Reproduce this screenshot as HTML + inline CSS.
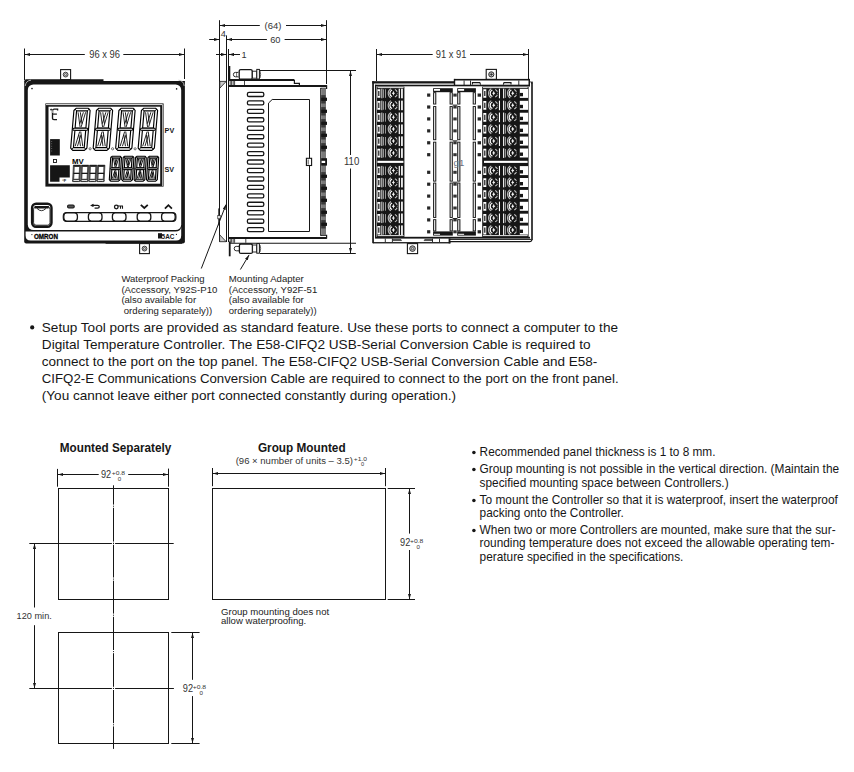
<!DOCTYPE html>
<html><head><meta charset="utf-8">
<style>
html,body{margin:0;padding:0;background:#fff;}
body{width:854px;height:772px;overflow:hidden;position:relative;}
svg{position:absolute;left:0;top:0;}
text{font-family:"Liberation Sans",sans-serif;fill:#161616;}
.t13{font-size:13px;}
.t12{font-size:11.85px;}
.t10{font-size:10px;}
.t9{font-size:9.6px;}
.b{font-weight:bold;}
</style></head><body>
<svg width="854" height="772" viewBox="0 0 854 772">
<defs>
  <marker id="ah" viewBox="0 0 10 6" refX="10" refY="3" markerWidth="5.3" markerHeight="3.3" orient="auto-start-reverse" markerUnits="userSpaceOnUse">
    <path d="M0,0 L10,3 L0,6 z" fill="#161616"/>
  </marker>
</defs>

<g id="front" stroke="#161616" fill="none" stroke-width="1">
<line x1="24.5" y1="48.5" x2="24.5" y2="80"/>
<line x1="184.5" y1="48.5" x2="184.5" y2="81"/>
<line x1="84.8" y1="54.5" x2="25" y2="54.5" marker-end="url(#ah)"/>
<line x1="123.3" y1="54.5" x2="184" y2="54.5" marker-end="url(#ah)"/>
<rect x="60.6" y="69.6" width="10" height="10" fill="#fff" stroke-width="1.1"/>
<circle cx="65.6" cy="74.6" r="2.4" stroke-width="0.8" fill="#ddd"/>
<circle cx="65.6" cy="74.6" r="1.1" stroke-width="0.6"/>
<rect x="24.2" y="79.2" width="160.7" height="164.2" rx="2" fill="#161616" stroke="none"/>
<rect x="103.5" y="79.0" width="82" height="2" fill="#fff" stroke="none"/>
<rect x="27.8" y="84.4" width="153.4" height="145.6" rx="5.5" fill="#fff" stroke="none"/>
<path d="M25.6,231.5 L175.5,231.5 Q180.4,231.5 181.2,227.2 L181.2,235.4 Q181.2,240.5 176.2,240.5 L30.6,240.5 Q25.6,240.5 25.6,235.5 Z" fill="#fff" stroke="none"/>
<path d="M25.2,86 Q26,80.5 31,80.2" stroke="#bbb" stroke-width="0.9"/>
<path d="M178.5,80.2 Q183.6,80.5 184.2,86" stroke="#bbb" stroke-width="0.9"/>
<circle cx="32" cy="88.6" r="0.8" fill="#161616" stroke="none"/>
<circle cx="176.6" cy="88.9" r="0.8" fill="#161616" stroke="none"/>
<rect x="45.4" y="103.4" width="118.2" height="83.2" fill="#161616" stroke="none"/>
<line x1="46" y1="104.6" x2="162.6" y2="104.6" stroke="#fff" stroke-width="0.9"/>
<line x1="162.6" y1="104.8" x2="162.6" y2="186" stroke="#fff" stroke-width="0.7"/>
<rect x="48.5" y="106.7" width="111.7" height="77" fill="#fff" stroke="none"/>
</g>
<path d="M76.37,108.20 L88.03,108.20 L90.11,110.47 L86.89,148.03 L84.43,150.30 L72.77,150.30 L70.69,148.03 L73.91,110.47 Z" fill="none" stroke="#000" stroke-width="1.15" stroke-linejoin="round"/>
<path d="M76.57,110.90 L87.37,110.90 L85.91,127.99 L75.11,127.99 Z" fill="#fff" stroke="#000" stroke-width="1.15"/>
<path d="M74.89,130.51 L85.69,130.51 L84.23,147.60 L73.43,147.60 Z" fill="#fff" stroke="#000" stroke-width="1.15"/>
<path d="M73.60,128.24 L87.37,128.24 L87.96,129.25 L87.20,130.26 L73.43,130.26 L72.84,129.25 Z" fill="#fff" stroke="#000" stroke-width="1.035"/>
<path d="M74.83,108.99 L76.57,110.90 M89.44,108.99 L87.37,110.90 M71.36,149.51 L73.43,147.60 M85.97,149.51 L84.23,147.60" stroke="#000" stroke-width="0.85" fill="none"/>
<path d="M78.07,112.27 L80.06,126.96 M80.34,112.27 L81.95,123.72 M85.63,112.27 L81.14,126.96 M83.36,112.27 L79.79,123.72 M75.17,146.23 L79.66,131.54 M77.44,146.23 L81.01,134.78 M82.73,146.23 L80.74,131.54 M80.46,146.23 L78.85,134.78" stroke="#000" stroke-width="0.85" fill="none"/>
<circle cx="90.1" cy="148.8" r="1.1" fill="none" stroke="#161616" stroke-width="0.6"/>
<path d="M98.87,108.20 L110.53,108.20 L112.61,110.47 L109.39,148.03 L106.93,150.30 L95.27,150.30 L93.19,148.03 L96.41,110.47 Z" fill="none" stroke="#000" stroke-width="1.15" stroke-linejoin="round"/>
<path d="M99.07,110.90 L109.87,110.90 L108.41,127.99 L97.61,127.99 Z" fill="#fff" stroke="#000" stroke-width="1.15"/>
<path d="M97.39,130.51 L108.19,130.51 L106.73,147.60 L95.93,147.60 Z" fill="#fff" stroke="#000" stroke-width="1.15"/>
<path d="M96.10,128.24 L109.87,128.24 L110.46,129.25 L109.70,130.26 L95.93,130.26 L95.34,129.25 Z" fill="#fff" stroke="#000" stroke-width="1.035"/>
<path d="M97.33,108.99 L99.07,110.90 M111.94,108.99 L109.87,110.90 M93.86,149.51 L95.93,147.60 M108.47,149.51 L106.73,147.60" stroke="#000" stroke-width="0.85" fill="none"/>
<path d="M100.57,112.27 L102.56,126.96 M102.84,112.27 L104.45,123.72 M108.13,112.27 L103.64,126.96 M105.86,112.27 L102.29,123.72 M97.67,146.23 L102.16,131.54 M99.94,146.23 L103.51,134.78 M105.23,146.23 L103.24,131.54 M102.96,146.23 L101.35,134.78" stroke="#000" stroke-width="0.85" fill="none"/>
<circle cx="112.6" cy="148.8" r="1.1" fill="none" stroke="#161616" stroke-width="0.6"/>
<path d="M121.37,108.20 L133.03,108.20 L135.11,110.47 L131.89,148.03 L129.43,150.30 L117.77,150.30 L115.69,148.03 L118.91,110.47 Z" fill="none" stroke="#000" stroke-width="1.15" stroke-linejoin="round"/>
<path d="M121.57,110.90 L132.37,110.90 L130.91,127.99 L120.11,127.99 Z" fill="#fff" stroke="#000" stroke-width="1.15"/>
<path d="M119.89,130.51 L130.69,130.51 L129.23,147.60 L118.43,147.60 Z" fill="#fff" stroke="#000" stroke-width="1.15"/>
<path d="M118.60,128.24 L132.37,128.24 L132.96,129.25 L132.20,130.26 L118.43,130.26 L117.84,129.25 Z" fill="#fff" stroke="#000" stroke-width="1.035"/>
<path d="M119.83,108.99 L121.57,110.90 M134.44,108.99 L132.37,110.90 M116.36,149.51 L118.43,147.60 M130.97,149.51 L129.23,147.60" stroke="#000" stroke-width="0.85" fill="none"/>
<path d="M123.07,112.27 L125.06,126.96 M125.34,112.27 L126.95,123.72 M130.63,112.27 L126.14,126.96 M128.36,112.27 L124.79,123.72 M120.17,146.23 L124.66,131.54 M122.44,146.23 L126.01,134.78 M127.73,146.23 L125.74,131.54 M125.46,146.23 L123.85,134.78" stroke="#000" stroke-width="0.85" fill="none"/>
<circle cx="135.1" cy="148.8" r="1.1" fill="none" stroke="#161616" stroke-width="0.6"/>
<path d="M143.87,108.20 L155.53,108.20 L157.61,110.47 L154.39,148.03 L151.93,150.30 L140.27,150.30 L138.19,148.03 L141.41,110.47 Z" fill="none" stroke="#000" stroke-width="1.15" stroke-linejoin="round"/>
<path d="M144.07,110.90 L154.87,110.90 L153.41,127.99 L142.61,127.99 Z" fill="#fff" stroke="#000" stroke-width="1.15"/>
<path d="M142.39,130.51 L153.19,130.51 L151.73,147.60 L140.93,147.60 Z" fill="#fff" stroke="#000" stroke-width="1.15"/>
<path d="M141.10,128.24 L154.87,128.24 L155.46,129.25 L154.70,130.26 L140.93,130.26 L140.34,129.25 Z" fill="#fff" stroke="#000" stroke-width="1.035"/>
<path d="M142.33,108.99 L144.07,110.90 M156.94,108.99 L154.87,110.90 M138.86,149.51 L140.93,147.60 M153.47,149.51 L151.73,147.60" stroke="#000" stroke-width="0.85" fill="none"/>
<path d="M145.57,112.27 L147.56,126.96 M147.84,112.27 L149.45,123.72 M153.13,112.27 L148.64,126.96 M150.86,112.27 L147.29,123.72 M142.67,146.23 L147.16,131.54 M144.94,146.23 L148.51,134.78 M150.23,146.23 L148.24,131.54 M147.96,146.23 L146.35,134.78" stroke="#000" stroke-width="0.85" fill="none"/>
<path d="M112.31,156.20 L120.09,156.20 L121.50,157.71 L120.10,179.69 L118.49,181.20 L110.71,181.20 L109.30,179.69 L110.70,157.71 Z" fill="#cfcfcf" stroke="#000" stroke-width="1.1" stroke-linejoin="round"/>
<path d="M112.58,158.10 L119.58,158.10 L118.96,167.74 L111.96,167.74 Z" fill="#fff" stroke="#000" stroke-width="1.1"/>
<path d="M111.84,169.66 L118.84,169.66 L118.22,179.30 L111.22,179.30 Z" fill="#fff" stroke="#000" stroke-width="1.1"/>
<path d="M110.90,167.99 L119.99,167.99 L120.42,168.70 L119.90,169.41 L110.81,169.41 L110.38,168.70 Z" fill="#fff" stroke="#000" stroke-width="0.9900000000000001"/>
<path d="M111.30,156.73 L112.58,158.10 M121.04,156.73 L119.58,158.10 M109.76,180.67 L111.22,179.30 M119.50,180.67 L118.22,179.30" stroke="#000" stroke-width="0.9" fill="none"/>
<path d="M113.58,158.87 L115.15,167.16 M115.05,158.87 L116.32,165.33 M118.48,158.87 L115.85,167.16 M117.01,158.87 L114.92,165.33 M112.32,178.53 L114.95,170.24 M113.79,178.53 L115.88,172.07 M117.22,178.53 L115.65,170.24 M115.75,178.53 L114.48,172.07" stroke="#000" stroke-width="0.9" fill="none"/>
<path d="M124.71,156.20 L132.49,156.20 L133.90,157.71 L132.50,179.69 L130.89,181.20 L123.11,181.20 L121.70,179.69 L123.10,157.71 Z" fill="#cfcfcf" stroke="#000" stroke-width="1.1" stroke-linejoin="round"/>
<path d="M124.98,158.10 L131.98,158.10 L131.36,167.74 L124.36,167.74 Z" fill="#fff" stroke="#000" stroke-width="1.1"/>
<path d="M124.24,169.66 L131.24,169.66 L130.62,179.30 L123.62,179.30 Z" fill="#fff" stroke="#000" stroke-width="1.1"/>
<path d="M123.30,167.99 L132.39,167.99 L132.82,168.70 L132.30,169.41 L123.21,169.41 L122.78,168.70 Z" fill="#fff" stroke="#000" stroke-width="0.9900000000000001"/>
<path d="M123.70,156.73 L124.98,158.10 M133.44,156.73 L131.98,158.10 M122.16,180.67 L123.62,179.30 M131.90,180.67 L130.62,179.30" stroke="#000" stroke-width="0.9" fill="none"/>
<path d="M125.98,158.87 L127.55,167.16 M127.45,158.87 L128.72,165.33 M130.88,158.87 L128.25,167.16 M129.41,158.87 L127.32,165.33 M124.72,178.53 L127.35,170.24 M126.19,178.53 L128.28,172.07 M129.62,178.53 L128.05,170.24 M128.15,178.53 L126.88,172.07" stroke="#000" stroke-width="0.9" fill="none"/>
<path d="M137.11,156.20 L144.89,156.20 L146.30,157.71 L144.90,179.69 L143.29,181.20 L135.51,181.20 L134.10,179.69 L135.50,157.71 Z" fill="#cfcfcf" stroke="#000" stroke-width="1.1" stroke-linejoin="round"/>
<path d="M137.38,158.10 L144.38,158.10 L143.76,167.74 L136.76,167.74 Z" fill="#fff" stroke="#000" stroke-width="1.1"/>
<path d="M136.64,169.66 L143.64,169.66 L143.02,179.30 L136.02,179.30 Z" fill="#fff" stroke="#000" stroke-width="1.1"/>
<path d="M135.70,167.99 L144.79,167.99 L145.22,168.70 L144.70,169.41 L135.61,169.41 L135.18,168.70 Z" fill="#fff" stroke="#000" stroke-width="0.9900000000000001"/>
<path d="M136.10,156.73 L137.38,158.10 M145.84,156.73 L144.38,158.10 M134.56,180.67 L136.02,179.30 M144.30,180.67 L143.02,179.30" stroke="#000" stroke-width="0.9" fill="none"/>
<path d="M138.38,158.87 L139.95,167.16 M139.85,158.87 L141.12,165.33 M143.28,158.87 L140.65,167.16 M141.81,158.87 L139.72,165.33 M137.12,178.53 L139.75,170.24 M138.59,178.53 L140.68,172.07 M142.02,178.53 L140.45,170.24 M140.55,178.53 L139.28,172.07" stroke="#000" stroke-width="0.9" fill="none"/>
<path d="M149.51,156.20 L157.29,156.20 L158.70,157.71 L157.30,179.69 L155.69,181.20 L147.91,181.20 L146.50,179.69 L147.90,157.71 Z" fill="#cfcfcf" stroke="#000" stroke-width="1.1" stroke-linejoin="round"/>
<path d="M149.78,158.10 L156.78,158.10 L156.16,167.74 L149.16,167.74 Z" fill="#fff" stroke="#000" stroke-width="1.1"/>
<path d="M149.04,169.66 L156.04,169.66 L155.42,179.30 L148.42,179.30 Z" fill="#fff" stroke="#000" stroke-width="1.1"/>
<path d="M148.10,167.99 L157.19,167.99 L157.62,168.70 L157.10,169.41 L148.01,169.41 L147.58,168.70 Z" fill="#fff" stroke="#000" stroke-width="0.9900000000000001"/>
<path d="M148.50,156.73 L149.78,158.10 M158.24,156.73 L156.78,158.10 M146.96,180.67 L148.42,179.30 M156.70,180.67 L155.42,179.30" stroke="#000" stroke-width="0.9" fill="none"/>
<path d="M150.78,158.87 L152.35,167.16 M152.25,158.87 L153.52,165.33 M155.68,158.87 L153.05,167.16 M154.21,158.87 L152.12,165.33 M149.52,178.53 L152.15,170.24 M150.99,178.53 L153.08,172.07 M154.42,178.53 L152.85,170.24 M152.95,178.53 L151.68,172.07" stroke="#000" stroke-width="0.9" fill="none"/>
<path d="M73.40,165.20 L80.60,165.20 L79.80,181.60 L72.60,181.60 Z" fill="#555" stroke="#222" stroke-width="0.7"/>
<path d="M74.75,167.07 L79.07,167.07 L78.79,172.70 L74.47,172.70 Z" fill="#fff" stroke="none"/>
<path d="M74.41,174.10 L78.73,174.10 L78.49,178.86 L74.17,178.86 Z" fill="#fff" stroke="none"/>
<path d="M73.57,165.80 L80.37,165.80" stroke="#161616" stroke-width="1.3"/>
<path d="M73.40,173.40 L79.80,173.40" stroke="#161616" stroke-width="1.1"/>
<path d="M74.09,179.70 L78.49,179.70 Q79.69,179.70 79.65,180.60 Q79.60,181.50 78.40,181.50 L74.00,181.50 Q72.80,181.50 72.85,180.60 Q72.89,179.70 74.09,179.70 Z" fill="#fff" stroke="#161616" stroke-width="0.8"/>
<path d="M81.50,165.20 L88.70,165.20 L87.90,181.60 L80.70,181.60 Z" fill="#555" stroke="#222" stroke-width="0.7"/>
<path d="M82.85,167.07 L87.17,167.07 L86.89,172.70 L82.57,172.70 Z" fill="#fff" stroke="none"/>
<path d="M82.51,174.10 L86.83,174.10 L86.59,178.86 L82.27,178.86 Z" fill="#fff" stroke="none"/>
<path d="M81.67,165.80 L88.47,165.80" stroke="#161616" stroke-width="1.3"/>
<path d="M81.50,173.40 L87.90,173.40" stroke="#161616" stroke-width="1.1"/>
<path d="M82.19,179.70 L86.59,179.70 Q87.79,179.70 87.75,180.60 Q87.70,181.50 86.50,181.50 L82.10,181.50 Q80.90,181.50 80.95,180.60 Q80.99,179.70 82.19,179.70 Z" fill="#fff" stroke="#161616" stroke-width="0.8"/>
<path d="M89.60,165.20 L96.80,165.20 L96.00,181.60 L88.80,181.60 Z" fill="#555" stroke="#222" stroke-width="0.7"/>
<path d="M90.95,167.07 L95.27,167.07 L94.99,172.70 L90.67,172.70 Z" fill="#fff" stroke="none"/>
<path d="M90.61,174.10 L94.93,174.10 L94.69,178.86 L90.37,178.86 Z" fill="#fff" stroke="none"/>
<path d="M89.77,165.80 L96.57,165.80" stroke="#161616" stroke-width="1.3"/>
<path d="M89.60,173.40 L96.00,173.40" stroke="#161616" stroke-width="1.1"/>
<path d="M90.29,179.70 L94.69,179.70 Q95.89,179.70 95.85,180.60 Q95.80,181.50 94.60,181.50 L90.20,181.50 Q89.00,181.50 89.05,180.60 Q89.09,179.70 90.29,179.70 Z" fill="#fff" stroke="#161616" stroke-width="0.8"/>
<path d="M97.70,165.20 L104.90,165.20 L104.10,181.60 L96.90,181.60 Z" fill="#555" stroke="#222" stroke-width="0.7"/>
<path d="M99.05,167.07 L103.37,167.07 L103.09,172.70 L98.77,172.70 Z" fill="#fff" stroke="none"/>
<path d="M98.71,174.10 L103.03,174.10 L102.79,178.86 L98.47,178.86 Z" fill="#fff" stroke="none"/>
<path d="M97.87,165.80 L104.67,165.80" stroke="#161616" stroke-width="1.3"/>
<path d="M97.70,173.40 L104.10,173.40" stroke="#161616" stroke-width="1.1"/>
<path d="M98.39,179.70 L102.79,179.70 Q103.99,179.70 103.95,180.60 Q103.90,181.50 102.70,181.50 L98.30,181.50 Q97.10,181.50 97.15,180.60 Q97.19,179.70 98.39,179.70 Z" fill="#fff" stroke="#161616" stroke-width="0.8"/>
<rect x="50.1" y="139.1" width="9.7" height="16.4" fill="#161616"/>
<rect x="53.5" y="159.5" width="3" height="3" fill="none" stroke="#161616" stroke-width="0.9"/>
<path d="M50.1,165.3 L69.8,165.3 L69.8,177.6 L59.5,177.6 L59.5,181.7 L50.1,181.7 Z" fill="#161616"/>
<rect x="51.3" y="141" width="0.8" height="0.8" fill="#888"/>
<rect x="51.3" y="143.4" width="0.8" height="0.8" fill="#888"/>
<rect x="51.3" y="145.8" width="0.8" height="0.8" fill="#888"/>
<rect x="51.3" y="148.2" width="0.8" height="0.8" fill="#888"/>
<rect x="51.3" y="150.6" width="0.8" height="0.8" fill="#888"/>
<text x="62.2" y="182.2" style="font-size:4px;font-weight:bold">°F</text>
<path d="M57.6,110.6 L57.6,109.1 L54.0,109.1 Q52.6,109.2 52.5,111 L52.5,118.6 Q52.5,119.6 54.0,119.6 L57.0,119.6" fill="none" stroke="#161616" stroke-width="1.35"/>
<path d="M52.5,110.2 L52.5,113" stroke="#999" stroke-width="1.4"/>
<path d="M52.6,114.1 L56.9,114.1" fill="none" stroke="#161616" stroke-width="1.2"/>
<path d="M50.0,109.6 L52.4,109.6 M51.2,108.6 L51.2,110.6" fill="none" stroke="#161616" stroke-width="0.8"/>
<text x="72.1" y="163.6" style="font-size:7.6px;font-weight:bold;fill:#000" textLength="11.7" lengthAdjust="spacingAndGlyphs">MV</text>
<text x="164.6" y="132.6" style="font-size:7.4px;font-weight:bold" textLength="9.6" lengthAdjust="spacingAndGlyphs">PV</text>
<text x="164.4" y="171.6" style="font-size:7.4px;font-weight:bold" textLength="9.6" lengthAdjust="spacingAndGlyphs">SV</text>
<rect x="32.1" y="203.8" width="19.4" height="22.9" rx="4" fill="none" stroke="#161616" stroke-width="2.4"/>
<path d="M34.5,206 L49,206 L48.5,208.4 L35,208.4 Z" fill="#161616"/>
<path d="M37,208.4 Q41.4,213 46,208.4" fill="none" stroke="#161616" stroke-width="0.9"/>
<rect x="33.6" y="206.8" width="16.4" height="18.4" rx="2.5" fill="none" stroke="#161616" stroke-width="0.9"/>
<rect x="63.3" y="212.6" width="112.6" height="8.8" rx="3.5" fill="none" stroke="#161616" stroke-width="1.2"/>
<rect x="63.8" y="212.9" width="13.6" height="8.2" rx="3" fill="#fff" stroke="#161616" stroke-width="1.3"/>
<rect x="88.4" y="212.9" width="13.6" height="8.2" rx="3" fill="#fff" stroke="#161616" stroke-width="1.3"/>
<rect x="112.4" y="212.9" width="13.6" height="8.2" rx="3" fill="#fff" stroke="#161616" stroke-width="1.3"/>
<rect x="137.2" y="212.9" width="13.6" height="8.2" rx="3" fill="#fff" stroke="#161616" stroke-width="1.3"/>
<rect x="161.6" y="212.9" width="13.6" height="8.2" rx="3" fill="#fff" stroke="#161616" stroke-width="1.3"/>
<rect x="67.6" y="205.0" width="6.6" height="3.0" rx="1.2" fill="#555" stroke="#161616" stroke-width="1.1"/>
<path d="M91.4,205.4 L97.5,205.4 Q99.3,205.4 99.3,206.8 Q99.3,208.2 97.5,208.2 L94.6,208.2 M93.5,206.5 L91.4,205.4 L93.5,204.3" fill="none" stroke="#161616" stroke-width="1.2"/>
<circle cx="116.3" cy="207" r="1.8" fill="none" stroke="#161616" stroke-width="1.3"/><path d="M118,206 L123,206 M120.5,206 L120.5,208.8 M122.5,206 L122.5,208.8" stroke="#161616" stroke-width="1.1"/>
<path d="M140.8,204.8 L144.3,208 L147.8,204.8" fill="none" stroke="#161616" stroke-width="1.8"/>
<path d="M164.9,208.6 L168.4,205.2 L171.9,208.6" fill="none" stroke="#161616" stroke-width="1.8"/>
<circle cx="31.9" cy="234.6" r="0.6" fill="#161616"/>
<text x="34" y="238.7" style="font-size:7.2px;font-weight:bold;fill:#000;stroke:#000;stroke-width:0.3" textLength="24" lengthAdjust="spacingAndGlyphs">OMRON</text>
<rect x="158" y="233.2" width="4" height="5.3" fill="#161616"/>
<text x="161.6" y="238.6" style="font-size:7px;font-weight:bold" textLength="12.8" lengthAdjust="spacingAndGlyphs">5AC</text>
<circle cx="176.4" cy="234.4" r="0.6" fill="#161616"/>
<line x1="105.6" y1="243.1" x2="182" y2="243.1" stroke="#161616" stroke-width="1.2"/>
<rect x="139.6" y="243.6" width="9.8" height="10" fill="#fff" stroke="#161616" stroke-width="1.1"/>
<circle cx="144.5" cy="248.6" r="2.4" fill="#ddd" stroke="#161616" stroke-width="0.8"/>
<circle cx="144.5" cy="248.6" r="1.1" fill="none" stroke="#161616" stroke-width="0.6"/>
<text x="89.3" y="57.7" textLength="30.7" lengthAdjust="spacingAndGlyphs" style="font-size:10px;fill:#333">96 x 96</text>
<g id="side" stroke="#161616" fill="none" stroke-width="1">
<line x1="219.5" y1="20.2" x2="219.5" y2="241.8"/>
<line x1="326.5" y1="20.2" x2="326.5" y2="84"/>
<line x1="259.8" y1="25.5" x2="220" y2="25.5" marker-end="url(#ah)"/>
<line x1="286" y1="25.5" x2="326" y2="25.5" marker-end="url(#ah)"/>
<line x1="209.2" y1="39.5" x2="219.4" y2="39.5" marker-end="url(#ah)"/>
<line x1="266.9" y1="39.5" x2="226.8" y2="39.5" marker-end="url(#ah)"/>
<line x1="284.6" y1="39.5" x2="326.2" y2="39.5" marker-end="url(#ah)"/>
<line x1="216" y1="54.5" x2="226.3" y2="54.5" marker-end="url(#ah)"/>
<line x1="240" y1="54.5" x2="228.7" y2="54.5" marker-end="url(#ah)"/>
<line x1="226.5" y1="35.4" x2="226.5" y2="242"/>
<line x1="228.5" y1="49" x2="228.5" y2="242"/>
<line x1="260" y1="70.5" x2="356" y2="70.5"/>
<line x1="260" y1="253.5" x2="355.8" y2="253.5"/>
<line x1="350.5" y1="155" x2="350.5" y2="71" marker-end="url(#ah)"/>
<line x1="350.5" y1="168.5" x2="350.5" y2="253" marker-end="url(#ah)"/>
<rect x="228.7" y="66" width="1.6" height="13" fill="#161616" stroke="none"/>
<rect x="239.2" y="69.6" width="13" height="9.6" rx="1.5" fill="#fff" stroke-width="1.3"/>
<path d="M238.4,72.4 L235.4,72.4 Q233.4,72.4 233.4,74.5 Q233.4,76.8 235.4,76.8 L238.4,76.8" stroke-width="0.9"/>
<line x1="236.6" y1="72.4" x2="236.6" y2="76.8" stroke-width="0.6"/>
<rect x="252.4" y="71.2" width="4.4" height="7" fill="#fff" stroke-width="0.9"/>
<rect x="256.8" y="69.4" width="2.6" height="9.6" fill="#fff" stroke-width="1"/>
<path d="M260,71 Q261.3,74.3 260,78" stroke-width="0.7"/>
<line x1="229" y1="80" x2="294.4" y2="80" stroke-width="1.8"/>
<path d="M294.4,80 L294.4,83.4 L299.4,83.4 L299.4,86" stroke-width="1.2"/>
<line x1="228.4" y1="86" x2="326.8" y2="86" stroke-width="1.9"/>
<path d="M326.6,85.2 L326.6,88.3 L320.4,88.3" stroke-width="1.2"/>
<line x1="230.2" y1="80.5" x2="230.2" y2="85.4" stroke-width="0.8"/>
<line x1="231.6" y1="80.5" x2="231.6" y2="85.4" stroke-width="0.8"/>
<line x1="233.2" y1="80.5" x2="233.2" y2="85.4" stroke-width="0.8"/>
<line x1="234.6" y1="80.5" x2="234.6" y2="85.4" stroke-width="0.8"/>
<line x1="244.5" y1="80.5" x2="244.5" y2="85.4" stroke-width="0.8"/>
<path d="M219.8,81.4 L226.2,81.4 L219.8,88.2 Z" fill="#c8c8c8" stroke-width="0.8"/>
<line x1="228.4" y1="238" x2="326.8" y2="238" stroke-width="1.9"/>
<path d="M326.6,238.5 L326.6,235.3 L320.4,235.3" stroke-width="1.2"/>
<line x1="229" y1="243.3" x2="356" y2="243.3" stroke-width="1.1"/>
<line x1="230.2" y1="238.2" x2="230.2" y2="242.8" stroke-width="0.8"/>
<line x1="231.6" y1="238.2" x2="231.6" y2="242.8" stroke-width="0.8"/>
<line x1="233.2" y1="238.2" x2="233.2" y2="242.8" stroke-width="0.8"/>
<line x1="234.6" y1="238.2" x2="234.6" y2="242.8" stroke-width="0.8"/>
<line x1="245.8" y1="238.2" x2="245.8" y2="242.8" stroke-width="0.8"/>
<path d="M219.6,241.7 L226.2,241.7 L219.6,234.7 Z" fill="#c8c8c8" stroke-width="0.8"/>
<rect x="239.4" y="244" width="13" height="9.4" rx="1.5" fill="#fff" stroke-width="1.3"/>
<path d="M239.2,246.4 L236.2,246.4 Q234.2,246.4 234.2,248.5 Q234.2,250.8 236.2,250.8 L239.2,250.8" stroke-width="0.9"/>
<rect x="252.6" y="245" width="4.2" height="7" fill="#fff" stroke-width="0.9"/>
<rect x="256.8" y="243.6" width="2.6" height="9.6" fill="#fff" stroke-width="1"/>
<path d="M260,245 Q261.3,248.3 260,252" stroke-width="0.7"/>
<rect x="228.8" y="241.5" width="1.8" height="14.8" fill="#161616" stroke="none"/>
<rect x="218.3" y="208.4" width="1.6" height="17" fill="#161616" stroke="none"/>
<rect x="217.8" y="215.4" width="2.4" height="3.4" fill="#fff" stroke="#161616" stroke-width="0.7"/>
<rect x="247.4" y="92.40" width="16.4" height="4.1" rx="1.6" stroke-width="1.3"/>
<rect x="247.4" y="100.85" width="16.4" height="4.1" rx="1.6" stroke-width="1.3"/>
<rect x="247.4" y="109.30" width="16.4" height="4.1" rx="1.6" stroke-width="1.3"/>
<rect x="247.4" y="117.75" width="16.4" height="4.1" rx="1.6" stroke-width="1.3"/>
<rect x="247.4" y="126.20" width="16.4" height="4.1" rx="1.6" stroke-width="1.3"/>
<rect x="247.4" y="134.65" width="16.4" height="4.1" rx="1.6" stroke-width="1.3"/>
<rect x="247.4" y="143.10" width="16.4" height="4.1" rx="1.6" stroke-width="1.3"/>
<rect x="247.4" y="151.55" width="16.4" height="4.1" rx="1.6" stroke-width="1.3"/>
<rect x="247.4" y="160.00" width="16.4" height="4.1" rx="1.6" stroke-width="1.3"/>
<rect x="247.4" y="168.45" width="16.4" height="4.1" rx="1.6" stroke-width="1.3"/>
<rect x="247.4" y="176.90" width="16.4" height="4.1" rx="1.6" stroke-width="1.3"/>
<rect x="247.4" y="185.35" width="16.4" height="4.1" rx="1.6" stroke-width="1.3"/>
<rect x="247.4" y="193.80" width="16.4" height="4.1" rx="1.6" stroke-width="1.3"/>
<rect x="247.4" y="202.25" width="16.4" height="4.1" rx="1.6" stroke-width="1.3"/>
<rect x="247.4" y="210.70" width="16.4" height="4.1" rx="1.6" stroke-width="1.3"/>
<rect x="247.4" y="219.15" width="16.4" height="4.1" rx="1.6" stroke-width="1.3"/>
<rect x="247.4" y="227.60" width="16.4" height="4.1" rx="1.6" stroke-width="1.3"/>
<path d="M268.5,231.5 L268.5,103.1 L272.2,99.5 L309.5,99.5 L309.5,231.5 Z" stroke-width="1"/>
<rect x="306.4" y="158.3" width="5.2" height="7.2" fill="#fff" stroke-width="1.1"/>
<line x1="308.2" y1="159.5" x2="308.2" y2="164.5" stroke-width="0.7"/>
<rect x="320.2" y="88.2" width="1.2" height="147.2" fill="#161616" stroke="none"/>
<rect x="321.4" y="88.2" width="4.6" height="147.2" fill="#7a7a7a" stroke="none"/>
<rect x="321.2" y="95.1" width="4.4" height="8.4" fill="#3a3a3a" stroke="none"/>
<rect x="321.2" y="97.7" width="5.8" height="3.2" fill="#161616" stroke="none"/>
<rect x="321.2" y="172.1" width="4.4" height="8.4" fill="#3a3a3a" stroke="none"/>
<rect x="321.2" y="174.7" width="5.8" height="3.2" fill="#161616" stroke="none"/>
<rect x="321.2" y="107.1" width="4.4" height="8.4" fill="#3a3a3a" stroke="none"/>
<rect x="321.2" y="109.7" width="5.8" height="3.2" fill="#161616" stroke="none"/>
<rect x="321.2" y="184.1" width="4.4" height="8.4" fill="#3a3a3a" stroke="none"/>
<rect x="321.2" y="186.7" width="5.8" height="3.2" fill="#161616" stroke="none"/>
<rect x="321.2" y="119.1" width="4.4" height="8.4" fill="#3a3a3a" stroke="none"/>
<rect x="321.2" y="121.7" width="5.8" height="3.2" fill="#161616" stroke="none"/>
<rect x="321.2" y="196.1" width="4.4" height="8.4" fill="#3a3a3a" stroke="none"/>
<rect x="321.2" y="198.7" width="5.8" height="3.2" fill="#161616" stroke="none"/>
<rect x="321.2" y="131.1" width="4.4" height="8.4" fill="#3a3a3a" stroke="none"/>
<rect x="321.2" y="133.7" width="5.8" height="3.2" fill="#161616" stroke="none"/>
<rect x="321.2" y="208.1" width="4.4" height="8.4" fill="#3a3a3a" stroke="none"/>
<rect x="321.2" y="210.7" width="5.8" height="3.2" fill="#161616" stroke="none"/>
<rect x="321.2" y="143.1" width="4.4" height="8.4" fill="#3a3a3a" stroke="none"/>
<rect x="321.2" y="145.7" width="5.8" height="3.2" fill="#161616" stroke="none"/>
<rect x="321.2" y="220.1" width="4.4" height="8.4" fill="#3a3a3a" stroke="none"/>
<rect x="321.2" y="222.7" width="5.8" height="3.2" fill="#161616" stroke="none"/>
<rect x="321.2" y="158.2" width="5.8" height="7.4" fill="#161616" stroke="none"/>
<rect x="321.6" y="160.8" width="3.6" height="2.2" fill="#fff" stroke="none"/>
<line x1="201.3" y1="268.5" x2="226.0" y2="204.6" marker-end="url(#ah)"/>
<line x1="240.4" y1="269.5" x2="249.1" y2="254.9" marker-end="url(#ah)"/>
</g>
<text class="t9" x="264.6" y="28.9" textLength="16.9" lengthAdjust="spacingAndGlyphs" style="fill:#333">(64)</text>
<text class="t9" x="270.2" y="42.9" textLength="10.3" lengthAdjust="spacingAndGlyphs" style="fill:#333">60</text>
<text x="220.8" y="36.7" style="font-size:9.2px;fill:#333">4</text>
<text x="241.4" y="57.8" style="font-size:9.2px;fill:#333">1</text>
<text x="344" y="165.1" textLength="15.3" lengthAdjust="spacingAndGlyphs" style="font-size:10.3px;fill:#333">110</text>
<text style="font-size:9.6px;fill:#222" x="121.4" y="281.9" textLength="83.1" lengthAdjust="spacingAndGlyphs">Waterproof Packing</text>
<text style="font-size:9.6px;fill:#222" x="121.4" y="292.5" textLength="96.0" lengthAdjust="spacingAndGlyphs">(Accessory, Y92S-P10</text>
<text style="font-size:9.6px;fill:#222" x="121.4" y="303.2" textLength="74.7" lengthAdjust="spacingAndGlyphs">(also available for</text>
<text style="font-size:9.6px;fill:#222" x="123.8" y="313.8" textLength="88.4" lengthAdjust="spacingAndGlyphs">ordering separately))</text>
<text style="font-size:9.6px;fill:#222" x="228.7" y="281.9" textLength="75.1" lengthAdjust="spacingAndGlyphs">Mounting Adapter</text>
<text style="font-size:9.6px;fill:#222" x="228.7" y="292.5" textLength="88.6" lengthAdjust="spacingAndGlyphs">(Accessory, Y92F-51</text>
<text style="font-size:9.6px;fill:#222" x="228.7" y="303.2" textLength="75.1" lengthAdjust="spacingAndGlyphs">(also available for</text>
<text style="font-size:9.6px;fill:#222" x="228.7" y="313.8" textLength="88.0" lengthAdjust="spacingAndGlyphs">ordering separately))</text>
<g id="rear" stroke="#161616" fill="none" stroke-width="1">
<line x1="376.5" y1="49" x2="376.5" y2="81"/>
<line x1="528.5" y1="49" x2="528.5" y2="79.5"/>
<line x1="432.7" y1="54.5" x2="377" y2="54.5" marker-end="url(#ah)"/>
<line x1="470" y1="54.5" x2="528" y2="54.5" marker-end="url(#ah)"/>
<rect x="486.2" y="69.4" width="10.2" height="10" fill="#fff" stroke-width="1.1"/>
<circle cx="491.3" cy="74.4" r="2.6" fill="#ccc" stroke-width="0.9"/>
<path d="M489.6,74.4 h3.4 M491.3,72.7 v3.4" stroke-width="0.7"/>
<rect x="372.2" y="81.2" width="1.7" height="162" fill="#161616" stroke="none"/>
<rect x="372.2" y="81.2" width="82.4" height="2.3" fill="#161616" stroke="none"/>
<rect x="531.2" y="81.6" width="1.6" height="158.4" fill="#161616" stroke="none"/>
<path d="M529.4,81.6 Q532,81.6 532,84" stroke-width="0.8"/>
<rect x="454" y="78.9" width="75.6" height="1.6" fill="#161616" stroke="none"/>
<rect x="453.8" y="78.9" width="1.4" height="7" fill="#161616" stroke="none"/>
<rect x="528.5" y="78.9" width="1.5" height="7.4" fill="#161616" stroke="none"/>
<line x1="464.1" y1="80.5" x2="464.1" y2="85" stroke-width="0.9"/>
<line x1="470.5" y1="80.5" x2="470.5" y2="85" stroke-width="0.9"/>
<line x1="518.8" y1="80.5" x2="518.8" y2="85" stroke-width="0.9"/>
<path d="M472.4,84.6 L472.4,82.6 L479.8,82.6 L480.6,84.6" stroke-width="1.1"/>
<path d="M503.3,84.6 L504,82.6 L511,82.6 L511,84.6" stroke-width="1.1"/>
<rect x="375.2" y="84.7" width="154.8" height="1.6" fill="#161616" stroke="none"/>
<rect x="375" y="84.7" width="1.2" height="153" fill="#161616" stroke="none"/>
<rect x="375" y="236.8" width="155" height="1.8" fill="#161616" stroke="none"/>
<rect x="373" y="242.1" width="77.4" height="1.3" fill="#161616" stroke="none"/>
<rect x="448.6" y="238.4" width="1.8" height="5" fill="#161616" stroke="none"/>
<line x1="450" y1="239.4" x2="531" y2="239.4" stroke-width="1.0"/>
<path d="M450,241.6 L529.5,241.6 Q531.8,241.6 531.9,239.5" stroke-width="1.1"/>
<line x1="385.3" y1="238.6" x2="385.3" y2="242" stroke-width="0.9"/>
<line x1="392.4" y1="238.6" x2="392.4" y2="242" stroke-width="0.9"/>
<line x1="432.5" y1="238.6" x2="432.5" y2="242" stroke-width="0.9"/>
<line x1="439.5" y1="238.6" x2="439.5" y2="242" stroke-width="0.9"/>
<path d="M392.6,239.4 L400.8,239.4 L401.6,240.6 L393.2,240.6 Z" fill="#161616" stroke-width="0.5"/>
<path d="M424,240.6 L424.8,239.4 L432.4,239.4 L432.4,240.6 Z" fill="#161616" stroke-width="0.5"/>
<rect x="407.4" y="243.6" width="10.2" height="10" fill="#fff" stroke-width="1.1"/>
<circle cx="412.5" cy="248.6" r="2.8" fill="#ccc" stroke-width="0.9"/>
<circle cx="412.5" cy="248.6" r="1.2" stroke-width="0.6"/>
</g>
<rect x="376.6" y="86.6" width="27.8" height="150.4" fill="#161616"/>
<rect x="482.2" y="86.6" width="46.4" height="150.4" fill="#161616"/>
<rect x="377.6" y="87.2" width="26" height="0.9" fill="#fff"/>
<rect x="483.0" y="87.2" width="44.6" height="0.9" fill="#fff"/>
<rect x="377.6" y="235.2" width="26" height="0.9" fill="#fff"/>
<rect x="483.0" y="235.2" width="44.6" height="0.9" fill="#fff"/>
<rect x="377.4" y="160.8" width="26" height="2.1" fill="#fff"/>
<rect x="484" y="160.8" width="43.6" height="2.1" fill="#fff"/>
<path d="M377.3,89.20 h3 v8.6 h-3 z M378.2,90.90 v5.2 h1.2 v-5.2 z" fill="#fff" fill-rule="evenodd"/>
<rect x="381.4" y="88.70" width="0.9" height="9.6" fill="#fff"/>
<rect x="383.2" y="89.30" width="0.6" height="8.5" fill="#eee"/>
<rect x="385.4" y="89.30" width="0.6" height="8.5" fill="#eee"/>
<path d="M390.96,88.71 A5.2,5.2 0 0 0 390.96,97.89" fill="none" stroke="#b8b8b8" stroke-width="1.1"/>
<path d="M392.09,90.05 A3.5,3.5 0 0 0 392.09,96.55" fill="none" stroke="#ffffff" stroke-width="1.2"/>
<path d="M391.80,93.30 L393.40,92.10 L395.00,93.30 L393.40,94.50 Z" fill="#fff"/>
<path d="M393.00,91.30 h0.8 v4 h-0.8 z" fill="#eee"/>
<path d="M397.11,91.80 A4.0,4.0 0 0 0 394.90,89.59" fill="none" stroke="#c4c4c4" stroke-width="1.1"/>
<path d="M394.90,97.01 A4.0,4.0 0 0 0 397.11,94.80" fill="none" stroke="#c4c4c4" stroke-width="1.1"/>
<rect x="396.80" y="92.80" width="0.9" height="1.0" fill="#999"/>
<rect x="398.7" y="88.70" width="1.2" height="9.6" fill="#fff"/>
<rect x="401.1" y="88.70" width="1.7" height="9.6" fill="#fff"/>
<path d="M483.3,89.20 h3 v8.6 h-3 z M484.2,90.90 v5.2 h1.2 v-5.2 z" fill="#fff" fill-rule="evenodd"/>
<path d="M491.26,88.71 A5.2,5.2 0 0 0 491.26,97.89" fill="none" stroke="#b8b8b8" stroke-width="1.1"/>
<path d="M492.39,90.05 A3.5,3.5 0 0 0 492.39,96.55" fill="none" stroke="#ffffff" stroke-width="1.2"/>
<path d="M492.10,93.30 L493.70,92.10 L495.30,93.30 L493.70,94.50 Z" fill="#fff"/>
<path d="M493.30,91.30 h0.8 v4 h-0.8 z" fill="#eee"/>
<path d="M497.41,91.80 A4.0,4.0 0 0 0 495.20,89.59" fill="none" stroke="#c4c4c4" stroke-width="1.1"/>
<path d="M495.20,97.01 A4.0,4.0 0 0 0 497.41,94.80" fill="none" stroke="#c4c4c4" stroke-width="1.1"/>
<rect x="497.10" y="92.80" width="0.9" height="1.0" fill="#999"/>
<rect x="498.9" y="88.70" width="1.1" height="9.6" fill="#fff"/>
<rect x="503.1" y="88.70" width="1.1" height="9.6" fill="#fff"/>
<rect x="505.3" y="89.30" width="0.6" height="8.5" fill="#eee"/>
<path d="M510.26,88.71 A5.2,5.2 0 0 0 510.26,97.89" fill="none" stroke="#b8b8b8" stroke-width="1.1"/>
<path d="M511.39,90.05 A3.5,3.5 0 0 0 511.39,96.55" fill="none" stroke="#ffffff" stroke-width="1.2"/>
<path d="M511.10,93.30 L512.70,92.10 L514.30,93.30 L512.70,94.50 Z" fill="#fff"/>
<path d="M512.30,91.30 h0.8 v4 h-0.8 z" fill="#eee"/>
<path d="M516.41,91.80 A4.0,4.0 0 0 0 514.20,89.59" fill="none" stroke="#c4c4c4" stroke-width="1.1"/>
<path d="M514.20,97.01 A4.0,4.0 0 0 0 516.41,94.80" fill="none" stroke="#c4c4c4" stroke-width="1.1"/>
<rect x="516.10" y="92.80" width="0.9" height="1.0" fill="#999"/>
<path d="M519.8,88.90 h8.3 v9 h-8.3 z" fill="#fff"/>
<rect x="519.6" y="92.90" width="3.4" height="3.4" fill="#161616"/>
<rect x="427.1" y="93.50" width="3.2" height="3.2" fill="#262626"/>
<rect x="477.6" y="93.50" width="3.4" height="3.2" fill="#262626"/>
<rect x="453.3" y="93.60" width="3.4" height="3.0" fill="#333"/>
<path d="M377.3,101.12 h3 v8.6 h-3 z M378.2,102.82 v5.2 h1.2 v-5.2 z" fill="#fff" fill-rule="evenodd"/>
<rect x="381.4" y="100.62" width="0.9" height="9.6" fill="#fff"/>
<rect x="383.2" y="101.22" width="0.6" height="8.5" fill="#eee"/>
<rect x="385.4" y="101.22" width="0.6" height="8.5" fill="#eee"/>
<path d="M390.96,100.63 A5.2,5.2 0 0 0 390.96,109.81" fill="none" stroke="#b8b8b8" stroke-width="1.1"/>
<path d="M392.09,101.97 A3.5,3.5 0 0 0 392.09,108.47" fill="none" stroke="#ffffff" stroke-width="1.2"/>
<path d="M391.80,105.22 L393.40,104.02 L395.00,105.22 L393.40,106.42 Z" fill="#fff"/>
<path d="M393.00,103.22 h0.8 v4 h-0.8 z" fill="#eee"/>
<path d="M397.11,103.72 A4.0,4.0 0 0 0 394.90,101.51" fill="none" stroke="#c4c4c4" stroke-width="1.1"/>
<path d="M394.90,108.93 A4.0,4.0 0 0 0 397.11,106.72" fill="none" stroke="#c4c4c4" stroke-width="1.1"/>
<rect x="396.80" y="104.72" width="0.9" height="1.0" fill="#999"/>
<rect x="398.7" y="100.62" width="1.2" height="9.6" fill="#fff"/>
<rect x="401.1" y="100.62" width="1.7" height="9.6" fill="#fff"/>
<path d="M483.3,101.12 h3 v8.6 h-3 z M484.2,102.82 v5.2 h1.2 v-5.2 z" fill="#fff" fill-rule="evenodd"/>
<path d="M491.26,100.63 A5.2,5.2 0 0 0 491.26,109.81" fill="none" stroke="#b8b8b8" stroke-width="1.1"/>
<path d="M492.39,101.97 A3.5,3.5 0 0 0 492.39,108.47" fill="none" stroke="#ffffff" stroke-width="1.2"/>
<path d="M492.10,105.22 L493.70,104.02 L495.30,105.22 L493.70,106.42 Z" fill="#fff"/>
<path d="M493.30,103.22 h0.8 v4 h-0.8 z" fill="#eee"/>
<path d="M497.41,103.72 A4.0,4.0 0 0 0 495.20,101.51" fill="none" stroke="#c4c4c4" stroke-width="1.1"/>
<path d="M495.20,108.93 A4.0,4.0 0 0 0 497.41,106.72" fill="none" stroke="#c4c4c4" stroke-width="1.1"/>
<rect x="497.10" y="104.72" width="0.9" height="1.0" fill="#999"/>
<rect x="498.9" y="100.62" width="1.1" height="9.6" fill="#fff"/>
<rect x="503.1" y="100.62" width="1.1" height="9.6" fill="#fff"/>
<rect x="505.3" y="101.22" width="0.6" height="8.5" fill="#eee"/>
<path d="M510.26,100.63 A5.2,5.2 0 0 0 510.26,109.81" fill="none" stroke="#b8b8b8" stroke-width="1.1"/>
<path d="M511.39,101.97 A3.5,3.5 0 0 0 511.39,108.47" fill="none" stroke="#ffffff" stroke-width="1.2"/>
<path d="M511.10,105.22 L512.70,104.02 L514.30,105.22 L512.70,106.42 Z" fill="#fff"/>
<path d="M512.30,103.22 h0.8 v4 h-0.8 z" fill="#eee"/>
<path d="M516.41,103.72 A4.0,4.0 0 0 0 514.20,101.51" fill="none" stroke="#c4c4c4" stroke-width="1.1"/>
<path d="M514.20,108.93 A4.0,4.0 0 0 0 516.41,106.72" fill="none" stroke="#c4c4c4" stroke-width="1.1"/>
<rect x="516.10" y="104.72" width="0.9" height="1.0" fill="#999"/>
<path d="M519.8,100.82 h8.3 v9 h-8.3 z" fill="#fff"/>
<rect x="519.6" y="104.82" width="3.4" height="3.4" fill="#161616"/>
<rect x="427.1" y="105.42" width="3.2" height="3.2" fill="#262626"/>
<rect x="477.6" y="105.42" width="3.4" height="3.2" fill="#262626"/>
<rect x="453.3" y="105.52" width="3.4" height="3.0" fill="#333"/>
<path d="M377.3,113.04 h3 v8.6 h-3 z M378.2,114.74 v5.2 h1.2 v-5.2 z" fill="#fff" fill-rule="evenodd"/>
<rect x="381.4" y="112.54" width="0.9" height="9.6" fill="#fff"/>
<rect x="383.2" y="113.14" width="0.6" height="8.5" fill="#eee"/>
<rect x="385.4" y="113.14" width="0.6" height="8.5" fill="#eee"/>
<path d="M390.96,112.55 A5.2,5.2 0 0 0 390.96,121.73" fill="none" stroke="#b8b8b8" stroke-width="1.1"/>
<path d="M392.09,113.89 A3.5,3.5 0 0 0 392.09,120.39" fill="none" stroke="#ffffff" stroke-width="1.2"/>
<path d="M391.80,117.14 L393.40,115.94 L395.00,117.14 L393.40,118.34 Z" fill="#fff"/>
<path d="M393.00,115.14 h0.8 v4 h-0.8 z" fill="#eee"/>
<path d="M397.11,115.64 A4.0,4.0 0 0 0 394.90,113.43" fill="none" stroke="#c4c4c4" stroke-width="1.1"/>
<path d="M394.90,120.85 A4.0,4.0 0 0 0 397.11,118.64" fill="none" stroke="#c4c4c4" stroke-width="1.1"/>
<rect x="396.80" y="116.64" width="0.9" height="1.0" fill="#999"/>
<rect x="398.7" y="112.54" width="1.2" height="9.6" fill="#fff"/>
<rect x="401.1" y="112.54" width="1.7" height="9.6" fill="#fff"/>
<path d="M483.3,113.04 h3 v8.6 h-3 z M484.2,114.74 v5.2 h1.2 v-5.2 z" fill="#fff" fill-rule="evenodd"/>
<path d="M491.26,112.55 A5.2,5.2 0 0 0 491.26,121.73" fill="none" stroke="#b8b8b8" stroke-width="1.1"/>
<path d="M492.39,113.89 A3.5,3.5 0 0 0 492.39,120.39" fill="none" stroke="#ffffff" stroke-width="1.2"/>
<path d="M492.10,117.14 L493.70,115.94 L495.30,117.14 L493.70,118.34 Z" fill="#fff"/>
<path d="M493.30,115.14 h0.8 v4 h-0.8 z" fill="#eee"/>
<path d="M497.41,115.64 A4.0,4.0 0 0 0 495.20,113.43" fill="none" stroke="#c4c4c4" stroke-width="1.1"/>
<path d="M495.20,120.85 A4.0,4.0 0 0 0 497.41,118.64" fill="none" stroke="#c4c4c4" stroke-width="1.1"/>
<rect x="497.10" y="116.64" width="0.9" height="1.0" fill="#999"/>
<rect x="498.9" y="112.54" width="1.1" height="9.6" fill="#fff"/>
<rect x="503.1" y="112.54" width="1.1" height="9.6" fill="#fff"/>
<rect x="505.3" y="113.14" width="0.6" height="8.5" fill="#eee"/>
<path d="M510.26,112.55 A5.2,5.2 0 0 0 510.26,121.73" fill="none" stroke="#b8b8b8" stroke-width="1.1"/>
<path d="M511.39,113.89 A3.5,3.5 0 0 0 511.39,120.39" fill="none" stroke="#ffffff" stroke-width="1.2"/>
<path d="M511.10,117.14 L512.70,115.94 L514.30,117.14 L512.70,118.34 Z" fill="#fff"/>
<path d="M512.30,115.14 h0.8 v4 h-0.8 z" fill="#eee"/>
<path d="M516.41,115.64 A4.0,4.0 0 0 0 514.20,113.43" fill="none" stroke="#c4c4c4" stroke-width="1.1"/>
<path d="M514.20,120.85 A4.0,4.0 0 0 0 516.41,118.64" fill="none" stroke="#c4c4c4" stroke-width="1.1"/>
<rect x="516.10" y="116.64" width="0.9" height="1.0" fill="#999"/>
<path d="M519.8,112.74 h8.3 v9 h-8.3 z" fill="#fff"/>
<rect x="519.6" y="116.74" width="3.4" height="3.4" fill="#161616"/>
<rect x="427.1" y="117.34" width="3.2" height="3.2" fill="#262626"/>
<rect x="477.6" y="117.34" width="3.4" height="3.2" fill="#262626"/>
<rect x="453.3" y="117.44" width="3.4" height="3.0" fill="#333"/>
<path d="M377.3,124.96 h3 v8.6 h-3 z M378.2,126.66 v5.2 h1.2 v-5.2 z" fill="#fff" fill-rule="evenodd"/>
<rect x="381.4" y="124.46" width="0.9" height="9.6" fill="#fff"/>
<rect x="383.2" y="125.06" width="0.6" height="8.5" fill="#eee"/>
<rect x="385.4" y="125.06" width="0.6" height="8.5" fill="#eee"/>
<path d="M390.96,124.47 A5.2,5.2 0 0 0 390.96,133.65" fill="none" stroke="#b8b8b8" stroke-width="1.1"/>
<path d="M392.09,125.81 A3.5,3.5 0 0 0 392.09,132.31" fill="none" stroke="#ffffff" stroke-width="1.2"/>
<path d="M391.80,129.06 L393.40,127.86 L395.00,129.06 L393.40,130.26 Z" fill="#fff"/>
<path d="M393.00,127.06 h0.8 v4 h-0.8 z" fill="#eee"/>
<path d="M397.11,127.56 A4.0,4.0 0 0 0 394.90,125.35" fill="none" stroke="#c4c4c4" stroke-width="1.1"/>
<path d="M394.90,132.77 A4.0,4.0 0 0 0 397.11,130.56" fill="none" stroke="#c4c4c4" stroke-width="1.1"/>
<rect x="396.80" y="128.56" width="0.9" height="1.0" fill="#999"/>
<rect x="398.7" y="124.46" width="1.2" height="9.6" fill="#fff"/>
<rect x="401.1" y="124.46" width="1.7" height="9.6" fill="#fff"/>
<path d="M483.3,124.96 h3 v8.6 h-3 z M484.2,126.66 v5.2 h1.2 v-5.2 z" fill="#fff" fill-rule="evenodd"/>
<path d="M491.26,124.47 A5.2,5.2 0 0 0 491.26,133.65" fill="none" stroke="#b8b8b8" stroke-width="1.1"/>
<path d="M492.39,125.81 A3.5,3.5 0 0 0 492.39,132.31" fill="none" stroke="#ffffff" stroke-width="1.2"/>
<path d="M492.10,129.06 L493.70,127.86 L495.30,129.06 L493.70,130.26 Z" fill="#fff"/>
<path d="M493.30,127.06 h0.8 v4 h-0.8 z" fill="#eee"/>
<path d="M497.41,127.56 A4.0,4.0 0 0 0 495.20,125.35" fill="none" stroke="#c4c4c4" stroke-width="1.1"/>
<path d="M495.20,132.77 A4.0,4.0 0 0 0 497.41,130.56" fill="none" stroke="#c4c4c4" stroke-width="1.1"/>
<rect x="497.10" y="128.56" width="0.9" height="1.0" fill="#999"/>
<rect x="498.9" y="124.46" width="1.1" height="9.6" fill="#fff"/>
<rect x="503.1" y="124.46" width="1.1" height="9.6" fill="#fff"/>
<rect x="505.3" y="125.06" width="0.6" height="8.5" fill="#eee"/>
<path d="M510.26,124.47 A5.2,5.2 0 0 0 510.26,133.65" fill="none" stroke="#b8b8b8" stroke-width="1.1"/>
<path d="M511.39,125.81 A3.5,3.5 0 0 0 511.39,132.31" fill="none" stroke="#ffffff" stroke-width="1.2"/>
<path d="M511.10,129.06 L512.70,127.86 L514.30,129.06 L512.70,130.26 Z" fill="#fff"/>
<path d="M512.30,127.06 h0.8 v4 h-0.8 z" fill="#eee"/>
<path d="M516.41,127.56 A4.0,4.0 0 0 0 514.20,125.35" fill="none" stroke="#c4c4c4" stroke-width="1.1"/>
<path d="M514.20,132.77 A4.0,4.0 0 0 0 516.41,130.56" fill="none" stroke="#c4c4c4" stroke-width="1.1"/>
<rect x="516.10" y="128.56" width="0.9" height="1.0" fill="#999"/>
<path d="M519.8,124.66 h8.3 v9 h-8.3 z" fill="#fff"/>
<rect x="519.6" y="128.66" width="3.4" height="3.4" fill="#161616"/>
<rect x="427.1" y="129.26" width="3.2" height="3.2" fill="#262626"/>
<rect x="477.6" y="129.26" width="3.4" height="3.2" fill="#262626"/>
<rect x="453.3" y="129.36" width="3.4" height="3.0" fill="#333"/>
<path d="M377.3,136.88 h3 v8.6 h-3 z M378.2,138.58 v5.2 h1.2 v-5.2 z" fill="#fff" fill-rule="evenodd"/>
<rect x="381.4" y="136.38" width="0.9" height="9.6" fill="#fff"/>
<rect x="383.2" y="136.98" width="0.6" height="8.5" fill="#eee"/>
<rect x="385.4" y="136.98" width="0.6" height="8.5" fill="#eee"/>
<path d="M390.96,136.39 A5.2,5.2 0 0 0 390.96,145.57" fill="none" stroke="#b8b8b8" stroke-width="1.1"/>
<path d="M392.09,137.73 A3.5,3.5 0 0 0 392.09,144.23" fill="none" stroke="#ffffff" stroke-width="1.2"/>
<path d="M391.80,140.98 L393.40,139.78 L395.00,140.98 L393.40,142.18 Z" fill="#fff"/>
<path d="M393.00,138.98 h0.8 v4 h-0.8 z" fill="#eee"/>
<path d="M397.11,139.48 A4.0,4.0 0 0 0 394.90,137.27" fill="none" stroke="#c4c4c4" stroke-width="1.1"/>
<path d="M394.90,144.69 A4.0,4.0 0 0 0 397.11,142.48" fill="none" stroke="#c4c4c4" stroke-width="1.1"/>
<rect x="396.80" y="140.48" width="0.9" height="1.0" fill="#999"/>
<rect x="398.7" y="136.38" width="1.2" height="9.6" fill="#fff"/>
<rect x="401.1" y="136.38" width="1.7" height="9.6" fill="#fff"/>
<path d="M483.3,136.88 h3 v8.6 h-3 z M484.2,138.58 v5.2 h1.2 v-5.2 z" fill="#fff" fill-rule="evenodd"/>
<path d="M491.26,136.39 A5.2,5.2 0 0 0 491.26,145.57" fill="none" stroke="#b8b8b8" stroke-width="1.1"/>
<path d="M492.39,137.73 A3.5,3.5 0 0 0 492.39,144.23" fill="none" stroke="#ffffff" stroke-width="1.2"/>
<path d="M492.10,140.98 L493.70,139.78 L495.30,140.98 L493.70,142.18 Z" fill="#fff"/>
<path d="M493.30,138.98 h0.8 v4 h-0.8 z" fill="#eee"/>
<path d="M497.41,139.48 A4.0,4.0 0 0 0 495.20,137.27" fill="none" stroke="#c4c4c4" stroke-width="1.1"/>
<path d="M495.20,144.69 A4.0,4.0 0 0 0 497.41,142.48" fill="none" stroke="#c4c4c4" stroke-width="1.1"/>
<rect x="497.10" y="140.48" width="0.9" height="1.0" fill="#999"/>
<rect x="498.9" y="136.38" width="1.1" height="9.6" fill="#fff"/>
<rect x="503.1" y="136.38" width="1.1" height="9.6" fill="#fff"/>
<rect x="505.3" y="136.98" width="0.6" height="8.5" fill="#eee"/>
<path d="M510.26,136.39 A5.2,5.2 0 0 0 510.26,145.57" fill="none" stroke="#b8b8b8" stroke-width="1.1"/>
<path d="M511.39,137.73 A3.5,3.5 0 0 0 511.39,144.23" fill="none" stroke="#ffffff" stroke-width="1.2"/>
<path d="M511.10,140.98 L512.70,139.78 L514.30,140.98 L512.70,142.18 Z" fill="#fff"/>
<path d="M512.30,138.98 h0.8 v4 h-0.8 z" fill="#eee"/>
<path d="M516.41,139.48 A4.0,4.0 0 0 0 514.20,137.27" fill="none" stroke="#c4c4c4" stroke-width="1.1"/>
<path d="M514.20,144.69 A4.0,4.0 0 0 0 516.41,142.48" fill="none" stroke="#c4c4c4" stroke-width="1.1"/>
<rect x="516.10" y="140.48" width="0.9" height="1.0" fill="#999"/>
<path d="M519.8,136.58 h8.3 v9 h-8.3 z" fill="#fff"/>
<rect x="519.6" y="140.58" width="3.4" height="3.4" fill="#161616"/>
<rect x="427.1" y="141.18" width="3.2" height="3.2" fill="#262626"/>
<rect x="477.6" y="141.18" width="3.4" height="3.2" fill="#262626"/>
<rect x="453.3" y="141.28" width="3.4" height="3.0" fill="#333"/>
<path d="M377.3,148.80 h3 v8.6 h-3 z M378.2,150.50 v5.2 h1.2 v-5.2 z" fill="#fff" fill-rule="evenodd"/>
<rect x="381.4" y="148.30" width="0.9" height="9.6" fill="#fff"/>
<rect x="383.2" y="148.90" width="0.6" height="8.5" fill="#eee"/>
<rect x="385.4" y="148.90" width="0.6" height="8.5" fill="#eee"/>
<path d="M390.96,148.31 A5.2,5.2 0 0 0 390.96,157.49" fill="none" stroke="#b8b8b8" stroke-width="1.1"/>
<path d="M392.09,149.65 A3.5,3.5 0 0 0 392.09,156.15" fill="none" stroke="#ffffff" stroke-width="1.2"/>
<path d="M391.80,152.90 L393.40,151.70 L395.00,152.90 L393.40,154.10 Z" fill="#fff"/>
<path d="M393.00,150.90 h0.8 v4 h-0.8 z" fill="#eee"/>
<path d="M397.11,151.40 A4.0,4.0 0 0 0 394.90,149.19" fill="none" stroke="#c4c4c4" stroke-width="1.1"/>
<path d="M394.90,156.61 A4.0,4.0 0 0 0 397.11,154.40" fill="none" stroke="#c4c4c4" stroke-width="1.1"/>
<rect x="396.80" y="152.40" width="0.9" height="1.0" fill="#999"/>
<rect x="398.7" y="148.30" width="1.2" height="9.6" fill="#fff"/>
<rect x="401.1" y="148.30" width="1.7" height="9.6" fill="#fff"/>
<path d="M483.3,148.80 h3 v8.6 h-3 z M484.2,150.50 v5.2 h1.2 v-5.2 z" fill="#fff" fill-rule="evenodd"/>
<path d="M491.26,148.31 A5.2,5.2 0 0 0 491.26,157.49" fill="none" stroke="#b8b8b8" stroke-width="1.1"/>
<path d="M492.39,149.65 A3.5,3.5 0 0 0 492.39,156.15" fill="none" stroke="#ffffff" stroke-width="1.2"/>
<path d="M492.10,152.90 L493.70,151.70 L495.30,152.90 L493.70,154.10 Z" fill="#fff"/>
<path d="M493.30,150.90 h0.8 v4 h-0.8 z" fill="#eee"/>
<path d="M497.41,151.40 A4.0,4.0 0 0 0 495.20,149.19" fill="none" stroke="#c4c4c4" stroke-width="1.1"/>
<path d="M495.20,156.61 A4.0,4.0 0 0 0 497.41,154.40" fill="none" stroke="#c4c4c4" stroke-width="1.1"/>
<rect x="497.10" y="152.40" width="0.9" height="1.0" fill="#999"/>
<rect x="498.9" y="148.30" width="1.1" height="9.6" fill="#fff"/>
<rect x="503.1" y="148.30" width="1.1" height="9.6" fill="#fff"/>
<rect x="505.3" y="148.90" width="0.6" height="8.5" fill="#eee"/>
<path d="M510.26,148.31 A5.2,5.2 0 0 0 510.26,157.49" fill="none" stroke="#b8b8b8" stroke-width="1.1"/>
<path d="M511.39,149.65 A3.5,3.5 0 0 0 511.39,156.15" fill="none" stroke="#ffffff" stroke-width="1.2"/>
<path d="M511.10,152.90 L512.70,151.70 L514.30,152.90 L512.70,154.10 Z" fill="#fff"/>
<path d="M512.30,150.90 h0.8 v4 h-0.8 z" fill="#eee"/>
<path d="M516.41,151.40 A4.0,4.0 0 0 0 514.20,149.19" fill="none" stroke="#c4c4c4" stroke-width="1.1"/>
<path d="M514.20,156.61 A4.0,4.0 0 0 0 516.41,154.40" fill="none" stroke="#c4c4c4" stroke-width="1.1"/>
<rect x="516.10" y="152.40" width="0.9" height="1.0" fill="#999"/>
<path d="M519.8,148.50 h8.3 v9 h-8.3 z" fill="#fff"/>
<rect x="519.6" y="152.50" width="3.4" height="3.4" fill="#161616"/>
<rect x="427.1" y="153.10" width="3.2" height="3.2" fill="#262626"/>
<rect x="477.6" y="153.10" width="3.4" height="3.2" fill="#262626"/>
<rect x="453.3" y="153.20" width="3.4" height="3.0" fill="#333"/>
<path d="M377.3,166.40 h3 v8.6 h-3 z M378.2,168.10 v5.2 h1.2 v-5.2 z" fill="#fff" fill-rule="evenodd"/>
<rect x="381.4" y="165.90" width="0.9" height="9.6" fill="#fff"/>
<rect x="383.2" y="166.50" width="0.6" height="8.5" fill="#eee"/>
<rect x="385.4" y="166.50" width="0.6" height="8.5" fill="#eee"/>
<path d="M390.96,165.91 A5.2,5.2 0 0 0 390.96,175.09" fill="none" stroke="#b8b8b8" stroke-width="1.1"/>
<path d="M392.09,167.25 A3.5,3.5 0 0 0 392.09,173.75" fill="none" stroke="#ffffff" stroke-width="1.2"/>
<path d="M391.80,170.50 L393.40,169.30 L395.00,170.50 L393.40,171.70 Z" fill="#fff"/>
<path d="M393.00,168.50 h0.8 v4 h-0.8 z" fill="#eee"/>
<path d="M397.11,169.00 A4.0,4.0 0 0 0 394.90,166.79" fill="none" stroke="#c4c4c4" stroke-width="1.1"/>
<path d="M394.90,174.21 A4.0,4.0 0 0 0 397.11,172.00" fill="none" stroke="#c4c4c4" stroke-width="1.1"/>
<rect x="396.80" y="170.00" width="0.9" height="1.0" fill="#999"/>
<rect x="398.7" y="165.90" width="1.2" height="9.6" fill="#fff"/>
<rect x="401.1" y="165.90" width="1.7" height="9.6" fill="#fff"/>
<path d="M483.3,166.40 h3 v8.6 h-3 z M484.2,168.10 v5.2 h1.2 v-5.2 z" fill="#fff" fill-rule="evenodd"/>
<path d="M491.26,165.91 A5.2,5.2 0 0 0 491.26,175.09" fill="none" stroke="#b8b8b8" stroke-width="1.1"/>
<path d="M492.39,167.25 A3.5,3.5 0 0 0 492.39,173.75" fill="none" stroke="#ffffff" stroke-width="1.2"/>
<path d="M492.10,170.50 L493.70,169.30 L495.30,170.50 L493.70,171.70 Z" fill="#fff"/>
<path d="M493.30,168.50 h0.8 v4 h-0.8 z" fill="#eee"/>
<path d="M497.41,169.00 A4.0,4.0 0 0 0 495.20,166.79" fill="none" stroke="#c4c4c4" stroke-width="1.1"/>
<path d="M495.20,174.21 A4.0,4.0 0 0 0 497.41,172.00" fill="none" stroke="#c4c4c4" stroke-width="1.1"/>
<rect x="497.10" y="170.00" width="0.9" height="1.0" fill="#999"/>
<rect x="498.9" y="165.90" width="1.1" height="9.6" fill="#fff"/>
<rect x="503.1" y="165.90" width="1.1" height="9.6" fill="#fff"/>
<rect x="505.3" y="166.50" width="0.6" height="8.5" fill="#eee"/>
<path d="M510.26,165.91 A5.2,5.2 0 0 0 510.26,175.09" fill="none" stroke="#b8b8b8" stroke-width="1.1"/>
<path d="M511.39,167.25 A3.5,3.5 0 0 0 511.39,173.75" fill="none" stroke="#ffffff" stroke-width="1.2"/>
<path d="M511.10,170.50 L512.70,169.30 L514.30,170.50 L512.70,171.70 Z" fill="#fff"/>
<path d="M512.30,168.50 h0.8 v4 h-0.8 z" fill="#eee"/>
<path d="M516.41,169.00 A4.0,4.0 0 0 0 514.20,166.79" fill="none" stroke="#c4c4c4" stroke-width="1.1"/>
<path d="M514.20,174.21 A4.0,4.0 0 0 0 516.41,172.00" fill="none" stroke="#c4c4c4" stroke-width="1.1"/>
<rect x="516.10" y="170.00" width="0.9" height="1.0" fill="#999"/>
<path d="M519.8,166.10 h8.3 v9 h-8.3 z" fill="#fff"/>
<rect x="519.6" y="170.10" width="3.4" height="3.4" fill="#161616"/>
<rect x="427.1" y="170.70" width="3.2" height="3.2" fill="#262626"/>
<rect x="477.6" y="170.70" width="3.4" height="3.2" fill="#262626"/>
<rect x="453.3" y="170.80" width="3.4" height="3.0" fill="#333"/>
<path d="M377.3,178.30 h3 v8.6 h-3 z M378.2,180.00 v5.2 h1.2 v-5.2 z" fill="#fff" fill-rule="evenodd"/>
<rect x="381.4" y="177.80" width="0.9" height="9.6" fill="#fff"/>
<rect x="383.2" y="178.40" width="0.6" height="8.5" fill="#eee"/>
<rect x="385.4" y="178.40" width="0.6" height="8.5" fill="#eee"/>
<path d="M390.96,177.81 A5.2,5.2 0 0 0 390.96,186.99" fill="none" stroke="#b8b8b8" stroke-width="1.1"/>
<path d="M392.09,179.15 A3.5,3.5 0 0 0 392.09,185.65" fill="none" stroke="#ffffff" stroke-width="1.2"/>
<path d="M391.80,182.40 L393.40,181.20 L395.00,182.40 L393.40,183.60 Z" fill="#fff"/>
<path d="M393.00,180.40 h0.8 v4 h-0.8 z" fill="#eee"/>
<path d="M397.11,180.90 A4.0,4.0 0 0 0 394.90,178.69" fill="none" stroke="#c4c4c4" stroke-width="1.1"/>
<path d="M394.90,186.11 A4.0,4.0 0 0 0 397.11,183.90" fill="none" stroke="#c4c4c4" stroke-width="1.1"/>
<rect x="396.80" y="181.90" width="0.9" height="1.0" fill="#999"/>
<rect x="398.7" y="177.80" width="1.2" height="9.6" fill="#fff"/>
<rect x="401.1" y="177.80" width="1.7" height="9.6" fill="#fff"/>
<path d="M483.3,178.30 h3 v8.6 h-3 z M484.2,180.00 v5.2 h1.2 v-5.2 z" fill="#fff" fill-rule="evenodd"/>
<path d="M491.26,177.81 A5.2,5.2 0 0 0 491.26,186.99" fill="none" stroke="#b8b8b8" stroke-width="1.1"/>
<path d="M492.39,179.15 A3.5,3.5 0 0 0 492.39,185.65" fill="none" stroke="#ffffff" stroke-width="1.2"/>
<path d="M492.10,182.40 L493.70,181.20 L495.30,182.40 L493.70,183.60 Z" fill="#fff"/>
<path d="M493.30,180.40 h0.8 v4 h-0.8 z" fill="#eee"/>
<path d="M497.41,180.90 A4.0,4.0 0 0 0 495.20,178.69" fill="none" stroke="#c4c4c4" stroke-width="1.1"/>
<path d="M495.20,186.11 A4.0,4.0 0 0 0 497.41,183.90" fill="none" stroke="#c4c4c4" stroke-width="1.1"/>
<rect x="497.10" y="181.90" width="0.9" height="1.0" fill="#999"/>
<rect x="498.9" y="177.80" width="1.1" height="9.6" fill="#fff"/>
<rect x="503.1" y="177.80" width="1.1" height="9.6" fill="#fff"/>
<rect x="505.3" y="178.40" width="0.6" height="8.5" fill="#eee"/>
<path d="M510.26,177.81 A5.2,5.2 0 0 0 510.26,186.99" fill="none" stroke="#b8b8b8" stroke-width="1.1"/>
<path d="M511.39,179.15 A3.5,3.5 0 0 0 511.39,185.65" fill="none" stroke="#ffffff" stroke-width="1.2"/>
<path d="M511.10,182.40 L512.70,181.20 L514.30,182.40 L512.70,183.60 Z" fill="#fff"/>
<path d="M512.30,180.40 h0.8 v4 h-0.8 z" fill="#eee"/>
<path d="M516.41,180.90 A4.0,4.0 0 0 0 514.20,178.69" fill="none" stroke="#c4c4c4" stroke-width="1.1"/>
<path d="M514.20,186.11 A4.0,4.0 0 0 0 516.41,183.90" fill="none" stroke="#c4c4c4" stroke-width="1.1"/>
<rect x="516.10" y="181.90" width="0.9" height="1.0" fill="#999"/>
<path d="M519.8,178.00 h8.3 v9 h-8.3 z" fill="#fff"/>
<rect x="519.6" y="182.00" width="3.4" height="3.4" fill="#161616"/>
<rect x="427.1" y="182.60" width="3.2" height="3.2" fill="#262626"/>
<rect x="477.6" y="182.60" width="3.4" height="3.2" fill="#262626"/>
<rect x="453.3" y="182.70" width="3.4" height="3.0" fill="#333"/>
<path d="M377.3,190.20 h3 v8.6 h-3 z M378.2,191.90 v5.2 h1.2 v-5.2 z" fill="#fff" fill-rule="evenodd"/>
<rect x="381.4" y="189.70" width="0.9" height="9.6" fill="#fff"/>
<rect x="383.2" y="190.30" width="0.6" height="8.5" fill="#eee"/>
<rect x="385.4" y="190.30" width="0.6" height="8.5" fill="#eee"/>
<path d="M390.96,189.71 A5.2,5.2 0 0 0 390.96,198.89" fill="none" stroke="#b8b8b8" stroke-width="1.1"/>
<path d="M392.09,191.05 A3.5,3.5 0 0 0 392.09,197.55" fill="none" stroke="#ffffff" stroke-width="1.2"/>
<path d="M391.80,194.30 L393.40,193.10 L395.00,194.30 L393.40,195.50 Z" fill="#fff"/>
<path d="M393.00,192.30 h0.8 v4 h-0.8 z" fill="#eee"/>
<path d="M397.11,192.80 A4.0,4.0 0 0 0 394.90,190.59" fill="none" stroke="#c4c4c4" stroke-width="1.1"/>
<path d="M394.90,198.01 A4.0,4.0 0 0 0 397.11,195.80" fill="none" stroke="#c4c4c4" stroke-width="1.1"/>
<rect x="396.80" y="193.80" width="0.9" height="1.0" fill="#999"/>
<rect x="398.7" y="189.70" width="1.2" height="9.6" fill="#fff"/>
<rect x="401.1" y="189.70" width="1.7" height="9.6" fill="#fff"/>
<path d="M483.3,190.20 h3 v8.6 h-3 z M484.2,191.90 v5.2 h1.2 v-5.2 z" fill="#fff" fill-rule="evenodd"/>
<path d="M491.26,189.71 A5.2,5.2 0 0 0 491.26,198.89" fill="none" stroke="#b8b8b8" stroke-width="1.1"/>
<path d="M492.39,191.05 A3.5,3.5 0 0 0 492.39,197.55" fill="none" stroke="#ffffff" stroke-width="1.2"/>
<path d="M492.10,194.30 L493.70,193.10 L495.30,194.30 L493.70,195.50 Z" fill="#fff"/>
<path d="M493.30,192.30 h0.8 v4 h-0.8 z" fill="#eee"/>
<path d="M497.41,192.80 A4.0,4.0 0 0 0 495.20,190.59" fill="none" stroke="#c4c4c4" stroke-width="1.1"/>
<path d="M495.20,198.01 A4.0,4.0 0 0 0 497.41,195.80" fill="none" stroke="#c4c4c4" stroke-width="1.1"/>
<rect x="497.10" y="193.80" width="0.9" height="1.0" fill="#999"/>
<rect x="498.9" y="189.70" width="1.1" height="9.6" fill="#fff"/>
<rect x="503.1" y="189.70" width="1.1" height="9.6" fill="#fff"/>
<rect x="505.3" y="190.30" width="0.6" height="8.5" fill="#eee"/>
<path d="M510.26,189.71 A5.2,5.2 0 0 0 510.26,198.89" fill="none" stroke="#b8b8b8" stroke-width="1.1"/>
<path d="M511.39,191.05 A3.5,3.5 0 0 0 511.39,197.55" fill="none" stroke="#ffffff" stroke-width="1.2"/>
<path d="M511.10,194.30 L512.70,193.10 L514.30,194.30 L512.70,195.50 Z" fill="#fff"/>
<path d="M512.30,192.30 h0.8 v4 h-0.8 z" fill="#eee"/>
<path d="M516.41,192.80 A4.0,4.0 0 0 0 514.20,190.59" fill="none" stroke="#c4c4c4" stroke-width="1.1"/>
<path d="M514.20,198.01 A4.0,4.0 0 0 0 516.41,195.80" fill="none" stroke="#c4c4c4" stroke-width="1.1"/>
<rect x="516.10" y="193.80" width="0.9" height="1.0" fill="#999"/>
<path d="M519.8,189.90 h8.3 v9 h-8.3 z" fill="#fff"/>
<rect x="519.6" y="193.90" width="3.4" height="3.4" fill="#161616"/>
<rect x="427.1" y="194.50" width="3.2" height="3.2" fill="#262626"/>
<rect x="477.6" y="194.50" width="3.4" height="3.2" fill="#262626"/>
<rect x="453.3" y="194.60" width="3.4" height="3.0" fill="#333"/>
<path d="M377.3,202.10 h3 v8.6 h-3 z M378.2,203.80 v5.2 h1.2 v-5.2 z" fill="#fff" fill-rule="evenodd"/>
<rect x="381.4" y="201.60" width="0.9" height="9.6" fill="#fff"/>
<rect x="383.2" y="202.20" width="0.6" height="8.5" fill="#eee"/>
<rect x="385.4" y="202.20" width="0.6" height="8.5" fill="#eee"/>
<path d="M390.96,201.61 A5.2,5.2 0 0 0 390.96,210.79" fill="none" stroke="#b8b8b8" stroke-width="1.1"/>
<path d="M392.09,202.95 A3.5,3.5 0 0 0 392.09,209.45" fill="none" stroke="#ffffff" stroke-width="1.2"/>
<path d="M391.80,206.20 L393.40,205.00 L395.00,206.20 L393.40,207.40 Z" fill="#fff"/>
<path d="M393.00,204.20 h0.8 v4 h-0.8 z" fill="#eee"/>
<path d="M397.11,204.70 A4.0,4.0 0 0 0 394.90,202.49" fill="none" stroke="#c4c4c4" stroke-width="1.1"/>
<path d="M394.90,209.91 A4.0,4.0 0 0 0 397.11,207.70" fill="none" stroke="#c4c4c4" stroke-width="1.1"/>
<rect x="396.80" y="205.70" width="0.9" height="1.0" fill="#999"/>
<rect x="398.7" y="201.60" width="1.2" height="9.6" fill="#fff"/>
<rect x="401.1" y="201.60" width="1.7" height="9.6" fill="#fff"/>
<path d="M483.3,202.10 h3 v8.6 h-3 z M484.2,203.80 v5.2 h1.2 v-5.2 z" fill="#fff" fill-rule="evenodd"/>
<path d="M491.26,201.61 A5.2,5.2 0 0 0 491.26,210.79" fill="none" stroke="#b8b8b8" stroke-width="1.1"/>
<path d="M492.39,202.95 A3.5,3.5 0 0 0 492.39,209.45" fill="none" stroke="#ffffff" stroke-width="1.2"/>
<path d="M492.10,206.20 L493.70,205.00 L495.30,206.20 L493.70,207.40 Z" fill="#fff"/>
<path d="M493.30,204.20 h0.8 v4 h-0.8 z" fill="#eee"/>
<path d="M497.41,204.70 A4.0,4.0 0 0 0 495.20,202.49" fill="none" stroke="#c4c4c4" stroke-width="1.1"/>
<path d="M495.20,209.91 A4.0,4.0 0 0 0 497.41,207.70" fill="none" stroke="#c4c4c4" stroke-width="1.1"/>
<rect x="497.10" y="205.70" width="0.9" height="1.0" fill="#999"/>
<rect x="498.9" y="201.60" width="1.1" height="9.6" fill="#fff"/>
<rect x="503.1" y="201.60" width="1.1" height="9.6" fill="#fff"/>
<rect x="505.3" y="202.20" width="0.6" height="8.5" fill="#eee"/>
<path d="M510.26,201.61 A5.2,5.2 0 0 0 510.26,210.79" fill="none" stroke="#b8b8b8" stroke-width="1.1"/>
<path d="M511.39,202.95 A3.5,3.5 0 0 0 511.39,209.45" fill="none" stroke="#ffffff" stroke-width="1.2"/>
<path d="M511.10,206.20 L512.70,205.00 L514.30,206.20 L512.70,207.40 Z" fill="#fff"/>
<path d="M512.30,204.20 h0.8 v4 h-0.8 z" fill="#eee"/>
<path d="M516.41,204.70 A4.0,4.0 0 0 0 514.20,202.49" fill="none" stroke="#c4c4c4" stroke-width="1.1"/>
<path d="M514.20,209.91 A4.0,4.0 0 0 0 516.41,207.70" fill="none" stroke="#c4c4c4" stroke-width="1.1"/>
<rect x="516.10" y="205.70" width="0.9" height="1.0" fill="#999"/>
<path d="M519.8,201.80 h8.3 v9 h-8.3 z" fill="#fff"/>
<rect x="519.6" y="205.80" width="3.4" height="3.4" fill="#161616"/>
<rect x="427.1" y="206.40" width="3.2" height="3.2" fill="#262626"/>
<rect x="477.6" y="206.40" width="3.4" height="3.2" fill="#262626"/>
<rect x="453.3" y="206.50" width="3.4" height="3.0" fill="#333"/>
<path d="M377.3,214.00 h3 v8.6 h-3 z M378.2,215.70 v5.2 h1.2 v-5.2 z" fill="#fff" fill-rule="evenodd"/>
<rect x="381.4" y="213.50" width="0.9" height="9.6" fill="#fff"/>
<rect x="383.2" y="214.10" width="0.6" height="8.5" fill="#eee"/>
<rect x="385.4" y="214.10" width="0.6" height="8.5" fill="#eee"/>
<path d="M390.96,213.51 A5.2,5.2 0 0 0 390.96,222.69" fill="none" stroke="#b8b8b8" stroke-width="1.1"/>
<path d="M392.09,214.85 A3.5,3.5 0 0 0 392.09,221.35" fill="none" stroke="#ffffff" stroke-width="1.2"/>
<path d="M391.80,218.10 L393.40,216.90 L395.00,218.10 L393.40,219.30 Z" fill="#fff"/>
<path d="M393.00,216.10 h0.8 v4 h-0.8 z" fill="#eee"/>
<path d="M397.11,216.60 A4.0,4.0 0 0 0 394.90,214.39" fill="none" stroke="#c4c4c4" stroke-width="1.1"/>
<path d="M394.90,221.81 A4.0,4.0 0 0 0 397.11,219.60" fill="none" stroke="#c4c4c4" stroke-width="1.1"/>
<rect x="396.80" y="217.60" width="0.9" height="1.0" fill="#999"/>
<rect x="398.7" y="213.50" width="1.2" height="9.6" fill="#fff"/>
<rect x="401.1" y="213.50" width="1.7" height="9.6" fill="#fff"/>
<path d="M483.3,214.00 h3 v8.6 h-3 z M484.2,215.70 v5.2 h1.2 v-5.2 z" fill="#fff" fill-rule="evenodd"/>
<path d="M491.26,213.51 A5.2,5.2 0 0 0 491.26,222.69" fill="none" stroke="#b8b8b8" stroke-width="1.1"/>
<path d="M492.39,214.85 A3.5,3.5 0 0 0 492.39,221.35" fill="none" stroke="#ffffff" stroke-width="1.2"/>
<path d="M492.10,218.10 L493.70,216.90 L495.30,218.10 L493.70,219.30 Z" fill="#fff"/>
<path d="M493.30,216.10 h0.8 v4 h-0.8 z" fill="#eee"/>
<path d="M497.41,216.60 A4.0,4.0 0 0 0 495.20,214.39" fill="none" stroke="#c4c4c4" stroke-width="1.1"/>
<path d="M495.20,221.81 A4.0,4.0 0 0 0 497.41,219.60" fill="none" stroke="#c4c4c4" stroke-width="1.1"/>
<rect x="497.10" y="217.60" width="0.9" height="1.0" fill="#999"/>
<rect x="498.9" y="213.50" width="1.1" height="9.6" fill="#fff"/>
<rect x="503.1" y="213.50" width="1.1" height="9.6" fill="#fff"/>
<rect x="505.3" y="214.10" width="0.6" height="8.5" fill="#eee"/>
<path d="M510.26,213.51 A5.2,5.2 0 0 0 510.26,222.69" fill="none" stroke="#b8b8b8" stroke-width="1.1"/>
<path d="M511.39,214.85 A3.5,3.5 0 0 0 511.39,221.35" fill="none" stroke="#ffffff" stroke-width="1.2"/>
<path d="M511.10,218.10 L512.70,216.90 L514.30,218.10 L512.70,219.30 Z" fill="#fff"/>
<path d="M512.30,216.10 h0.8 v4 h-0.8 z" fill="#eee"/>
<path d="M516.41,216.60 A4.0,4.0 0 0 0 514.20,214.39" fill="none" stroke="#c4c4c4" stroke-width="1.1"/>
<path d="M514.20,221.81 A4.0,4.0 0 0 0 516.41,219.60" fill="none" stroke="#c4c4c4" stroke-width="1.1"/>
<rect x="516.10" y="217.60" width="0.9" height="1.0" fill="#999"/>
<path d="M519.8,213.70 h8.3 v9 h-8.3 z" fill="#fff"/>
<rect x="519.6" y="217.70" width="3.4" height="3.4" fill="#161616"/>
<rect x="427.1" y="218.30" width="3.2" height="3.2" fill="#262626"/>
<rect x="477.6" y="218.30" width="3.4" height="3.2" fill="#262626"/>
<rect x="453.3" y="218.40" width="3.4" height="3.0" fill="#333"/>
<path d="M377.3,225.90 h3 v8.6 h-3 z M378.2,227.60 v5.2 h1.2 v-5.2 z" fill="#fff" fill-rule="evenodd"/>
<rect x="381.4" y="225.40" width="0.9" height="9.6" fill="#fff"/>
<rect x="383.2" y="226.00" width="0.6" height="8.5" fill="#eee"/>
<rect x="385.4" y="226.00" width="0.6" height="8.5" fill="#eee"/>
<path d="M390.96,225.41 A5.2,5.2 0 0 0 390.96,234.59" fill="none" stroke="#b8b8b8" stroke-width="1.1"/>
<path d="M392.09,226.75 A3.5,3.5 0 0 0 392.09,233.25" fill="none" stroke="#ffffff" stroke-width="1.2"/>
<path d="M391.80,230.00 L393.40,228.80 L395.00,230.00 L393.40,231.20 Z" fill="#fff"/>
<path d="M393.00,228.00 h0.8 v4 h-0.8 z" fill="#eee"/>
<path d="M397.11,228.50 A4.0,4.0 0 0 0 394.90,226.29" fill="none" stroke="#c4c4c4" stroke-width="1.1"/>
<path d="M394.90,233.71 A4.0,4.0 0 0 0 397.11,231.50" fill="none" stroke="#c4c4c4" stroke-width="1.1"/>
<rect x="396.80" y="229.50" width="0.9" height="1.0" fill="#999"/>
<rect x="398.7" y="225.40" width="1.2" height="9.6" fill="#fff"/>
<rect x="401.1" y="225.40" width="1.7" height="9.6" fill="#fff"/>
<path d="M483.3,225.90 h3 v8.6 h-3 z M484.2,227.60 v5.2 h1.2 v-5.2 z" fill="#fff" fill-rule="evenodd"/>
<path d="M491.26,225.41 A5.2,5.2 0 0 0 491.26,234.59" fill="none" stroke="#b8b8b8" stroke-width="1.1"/>
<path d="M492.39,226.75 A3.5,3.5 0 0 0 492.39,233.25" fill="none" stroke="#ffffff" stroke-width="1.2"/>
<path d="M492.10,230.00 L493.70,228.80 L495.30,230.00 L493.70,231.20 Z" fill="#fff"/>
<path d="M493.30,228.00 h0.8 v4 h-0.8 z" fill="#eee"/>
<path d="M497.41,228.50 A4.0,4.0 0 0 0 495.20,226.29" fill="none" stroke="#c4c4c4" stroke-width="1.1"/>
<path d="M495.20,233.71 A4.0,4.0 0 0 0 497.41,231.50" fill="none" stroke="#c4c4c4" stroke-width="1.1"/>
<rect x="497.10" y="229.50" width="0.9" height="1.0" fill="#999"/>
<rect x="498.9" y="225.40" width="1.1" height="9.6" fill="#fff"/>
<rect x="503.1" y="225.40" width="1.1" height="9.6" fill="#fff"/>
<rect x="505.3" y="226.00" width="0.6" height="8.5" fill="#eee"/>
<path d="M510.26,225.41 A5.2,5.2 0 0 0 510.26,234.59" fill="none" stroke="#b8b8b8" stroke-width="1.1"/>
<path d="M511.39,226.75 A3.5,3.5 0 0 0 511.39,233.25" fill="none" stroke="#ffffff" stroke-width="1.2"/>
<path d="M511.10,230.00 L512.70,228.80 L514.30,230.00 L512.70,231.20 Z" fill="#fff"/>
<path d="M512.30,228.00 h0.8 v4 h-0.8 z" fill="#eee"/>
<path d="M516.41,228.50 A4.0,4.0 0 0 0 514.20,226.29" fill="none" stroke="#c4c4c4" stroke-width="1.1"/>
<path d="M514.20,233.71 A4.0,4.0 0 0 0 516.41,231.50" fill="none" stroke="#c4c4c4" stroke-width="1.1"/>
<rect x="516.10" y="229.50" width="0.9" height="1.0" fill="#999"/>
<path d="M519.8,225.60 h8.3 v9 h-8.3 z" fill="#fff"/>
<rect x="519.6" y="229.60" width="3.4" height="3.4" fill="#161616"/>
<rect x="427.1" y="230.20" width="3.2" height="3.2" fill="#262626"/>
<rect x="477.6" y="230.20" width="3.4" height="3.2" fill="#262626"/>
<rect x="453.3" y="230.30" width="3.4" height="3.0" fill="#333"/>
<rect x="433.1" y="88.2" width="19.7" height="4" fill="#161616"/>
<rect x="434.0" y="89.0" width="6" height="1.8" fill="#fff"/>
<rect x="433.1" y="231.4" width="19.7" height="4.2" fill="#161616"/>
<rect x="434.0" y="233.8" width="6" height="1.0" fill="#fff"/>
<rect x="433.10" y="92.2" width="3.2" height="12.3" fill="#161616"/>
<rect x="434.15" y="93.1" width="1.1" height="10.5" fill="#fff"/>
<rect x="449.60" y="92.2" width="3.2" height="12.3" fill="#161616"/>
<rect x="450.65" y="93.1" width="1.1" height="10.5" fill="#fff"/>
<rect x="433.10" y="106.1" width="3.2" height="34.1" fill="#161616"/>
<rect x="434.15" y="107.0" width="1.1" height="32.3" fill="#fff"/>
<rect x="449.60" y="106.1" width="3.2" height="34.1" fill="#161616"/>
<rect x="450.65" y="107.0" width="1.1" height="32.3" fill="#fff"/>
<rect x="433.10" y="141.7" width="3.2" height="39.9" fill="#161616"/>
<rect x="434.15" y="142.6" width="1.1" height="38.1" fill="#fff"/>
<rect x="449.60" y="141.7" width="3.2" height="39.9" fill="#161616"/>
<rect x="450.65" y="142.6" width="1.1" height="38.1" fill="#fff"/>
<rect x="433.10" y="182.6" width="3.2" height="35.3" fill="#161616"/>
<rect x="434.15" y="183.5" width="1.1" height="33.5" fill="#fff"/>
<rect x="449.60" y="182.6" width="3.2" height="35.3" fill="#161616"/>
<rect x="450.65" y="183.5" width="1.1" height="33.5" fill="#fff"/>
<rect x="433.10" y="219.2" width="3.2" height="12.2" fill="#161616"/>
<rect x="434.15" y="220.1" width="1.1" height="10.4" fill="#fff"/>
<rect x="449.60" y="219.2" width="3.2" height="12.2" fill="#161616"/>
<rect x="450.65" y="220.1" width="1.1" height="10.4" fill="#fff"/>
<rect x="457.2" y="88.2" width="18.7" height="4" fill="#161616"/>
<rect x="458.1" y="89.0" width="6" height="1.8" fill="#fff"/>
<rect x="457.2" y="231.4" width="18.7" height="4.2" fill="#161616"/>
<rect x="458.1" y="233.8" width="6" height="1.0" fill="#fff"/>
<rect x="457.20" y="92.2" width="3.2" height="12.3" fill="#161616"/>
<rect x="458.25" y="93.1" width="1.1" height="10.5" fill="#fff"/>
<rect x="472.70" y="92.2" width="3.2" height="12.3" fill="#161616"/>
<rect x="473.75" y="93.1" width="1.1" height="10.5" fill="#fff"/>
<rect x="457.20" y="106.1" width="3.2" height="34.1" fill="#161616"/>
<rect x="458.25" y="107.0" width="1.1" height="32.3" fill="#fff"/>
<rect x="472.70" y="106.1" width="3.2" height="34.1" fill="#161616"/>
<rect x="473.75" y="107.0" width="1.1" height="32.3" fill="#fff"/>
<rect x="457.20" y="141.7" width="3.2" height="39.9" fill="#161616"/>
<rect x="458.25" y="142.6" width="1.1" height="38.1" fill="#fff"/>
<rect x="472.70" y="141.7" width="3.2" height="39.9" fill="#161616"/>
<rect x="473.75" y="142.6" width="1.1" height="38.1" fill="#fff"/>
<rect x="457.20" y="182.6" width="3.2" height="35.3" fill="#161616"/>
<rect x="458.25" y="183.5" width="1.1" height="33.5" fill="#fff"/>
<rect x="472.70" y="182.6" width="3.2" height="35.3" fill="#161616"/>
<rect x="473.75" y="183.5" width="1.1" height="33.5" fill="#fff"/>
<rect x="457.20" y="219.2" width="3.2" height="12.2" fill="#161616"/>
<rect x="458.25" y="220.1" width="1.1" height="10.4" fill="#fff"/>
<rect x="472.70" y="219.2" width="3.2" height="12.2" fill="#161616"/>
<rect x="473.75" y="220.1" width="1.1" height="10.4" fill="#fff"/>
<line x1="452.6" y1="105.1" x2="457.4" y2="105.1" stroke="#161616" stroke-width="0.9"/>
<line x1="452.6" y1="140.8" x2="457.4" y2="140.8" stroke="#161616" stroke-width="0.9"/>
<line x1="452.6" y1="182.2" x2="457.4" y2="182.2" stroke="#161616" stroke-width="0.9"/>
<line x1="452.6" y1="218.5" x2="457.4" y2="218.5" stroke="#161616" stroke-width="0.9"/>
<text x="453.6" y="165.8" style="font-size:9.6px;fill:#6a7080">g1</text>
<text x="435.8" y="57.8" textLength="30.6" lengthAdjust="spacingAndGlyphs" style="font-size:10px;fill:#333">91 x 91</text>
<circle cx="32.2" cy="327.4" r="2.1" fill="#161616"/>
<text class="t13" x="41.8" y="331.9" textLength="576.2" lengthAdjust="spacingAndGlyphs">Setup Tool ports are provided as standard feature. Use these ports to connect a computer to the</text>
<text class="t13" x="41.8" y="348.8" textLength="548.7" lengthAdjust="spacingAndGlyphs">Digital Temperature Controller. The E58-CIFQ2 USB-Serial Conversion Cable is required to</text>
<text class="t13" x="41.8" y="365.7" textLength="555.5" lengthAdjust="spacingAndGlyphs">connect to the port on the top panel. The E58-CIFQ2 USB-Serial Conversion Cable and E58-</text>
<text class="t13" x="41.8" y="382.6" textLength="576.8" lengthAdjust="spacingAndGlyphs">CIFQ2-E Communications Conversion Cable are required to connect to the port on the front panel.</text>
<text class="t13" x="41.8" y="399.5" textLength="414.2" lengthAdjust="spacingAndGlyphs">(You cannot leave either port connected constantly during operation.)</text>
<circle cx="473.9" cy="452.6" r="1.75" fill="#161616"/>
<text class="t12" x="479.6" y="455.9" textLength="235.9" lengthAdjust="spacingAndGlyphs">Recommended panel thickness is 1 to 8 mm.</text>
<circle cx="473.9" cy="469.5" r="1.75" fill="#161616"/>
<text class="t12" x="479.6" y="472.8" textLength="359.5" lengthAdjust="spacingAndGlyphs">Group mounting is not possible in the vertical direction. (Maintain the</text>
<text class="t12" x="479.6" y="486.6" textLength="249.0" lengthAdjust="spacingAndGlyphs">specified mounting space between Controllers.)</text>
<circle cx="473.9" cy="500.4" r="1.75" fill="#161616"/>
<text class="t12" x="479.6" y="503.7" textLength="358.3" lengthAdjust="spacingAndGlyphs">To mount the Controller so that it is waterproof, insert the waterproof</text>
<text class="t12" x="479.6" y="516.9" textLength="144.3" lengthAdjust="spacingAndGlyphs">packing onto the Controller.</text>
<circle cx="473.9" cy="530.4" r="1.75" fill="#161616"/>
<text class="t12" x="479.6" y="533.7" textLength="356.0" lengthAdjust="spacingAndGlyphs">When two or more Controllers are mounted, make sure that the sur-</text>
<text class="t12" x="479.6" y="547.4" textLength="354.8" lengthAdjust="spacingAndGlyphs">rounding temperature does not exceed the allowable operating tem-</text>
<text class="t12" x="479.6" y="561.2" textLength="203.8" lengthAdjust="spacingAndGlyphs">perature specified in the specifications.</text>
<text class="b" style="font-size:12.5px" x="59.8" y="451.9" textLength="111.5" lengthAdjust="spacingAndGlyphs">Mounted Separately</text>
<text class="b" style="font-size:12.5px" x="257.9" y="451.8" textLength="87.7" lengthAdjust="spacingAndGlyphs">Group Mounted</text>
<g stroke="#161616" fill="none" stroke-width="1">
<line x1="57.5" y1="468.9" x2="57.5" y2="486.7"/>
<line x1="168.5" y1="468.6" x2="168.5" y2="486.7"/>
<line x1="98.7" y1="474.5" x2="58" y2="474.5" marker-end="url(#ah)"/>
<line x1="128.2" y1="474.5" x2="168" y2="474.5" marker-end="url(#ah)"/>
<rect x="58.5" y="488.5" width="110" height="111"/>
<rect x="58.5" y="632.5" width="110" height="111"/>
<line x1="34.5" y1="607.5" x2="34.5" y2="543.8" marker-end="url(#ah)"/>
<line x1="34.5" y1="625.2" x2="34.5" y2="688" marker-end="url(#ah)"/>
<line x1="171.3" y1="632.5" x2="199.6" y2="632.5"/>
<line x1="171.3" y1="743.5" x2="199.6" y2="743.5"/>
<line x1="192.5" y1="679.8" x2="192.5" y2="633" marker-end="url(#ah)"/>
<line x1="192.5" y1="696.1" x2="192.5" y2="743" marker-end="url(#ah)"/>
<line x1="212.5" y1="468" x2="212.5" y2="486.2"/>
<line x1="385.5" y1="468" x2="385.5" y2="486.2"/>
<line x1="213" y1="473.5" x2="385" y2="473.5" marker-start="url(#ah)" marker-end="url(#ah)"/>
<rect x="212.5" y="488.5" width="173" height="111"/>
<line x1="387.7" y1="488.5" x2="415" y2="488.5"/>
<line x1="387.7" y1="599.5" x2="415" y2="599.5"/>
<line x1="409.5" y1="533.6" x2="409.5" y2="489" marker-end="url(#ah)"/>
<line x1="409.5" y1="550" x2="409.5" y2="599" marker-end="url(#ah)"/>
</g>
<rect x="113.00" y="505.70" width="1" height="1" fill="#161616"/>
<rect x="113.00" y="542.70" width="1" height="1" fill="#161616"/>
<rect x="113.00" y="578.60" width="1" height="1" fill="#161616"/>
<rect x="113.00" y="614.70" width="1" height="1" fill="#161616"/>
<rect x="113.00" y="651.10" width="1" height="1" fill="#161616"/>
<rect x="113.00" y="687.90" width="1" height="1" fill="#161616"/>
<rect x="113.00" y="724.30" width="1" height="1" fill="#161616"/>
<line x1="113.5" y1="485.30" x2="113.5" y2="504.60" stroke="#161616" stroke-width="1"/>
<line x1="113.5" y1="507.80" x2="113.5" y2="541.60" stroke="#161616" stroke-width="1"/>
<line x1="113.5" y1="544.80" x2="113.5" y2="577.50" stroke="#161616" stroke-width="1"/>
<line x1="113.5" y1="580.70" x2="113.5" y2="613.60" stroke="#161616" stroke-width="1"/>
<line x1="113.5" y1="616.80" x2="113.5" y2="650.00" stroke="#161616" stroke-width="1"/>
<line x1="113.5" y1="653.20" x2="113.5" y2="686.80" stroke="#161616" stroke-width="1"/>
<line x1="113.5" y1="690.00" x2="113.5" y2="723.20" stroke="#161616" stroke-width="1"/>
<line x1="113.5" y1="726.40" x2="113.5" y2="748.90" stroke="#161616" stroke-width="1"/>
<rect x="113.00" y="543.00" width="1" height="1" fill="#161616"/>
<line x1="29.30" y1="543.5" x2="111.90" y2="543.5" stroke="#161616" stroke-width="1"/>
<line x1="115.10" y1="543.5" x2="173.70" y2="543.5" stroke="#161616" stroke-width="1"/>
<rect x="113.00" y="688.00" width="1" height="1" fill="#161616"/>
<line x1="29.30" y1="688.5" x2="111.90" y2="688.5" stroke="#161616" stroke-width="1"/>
<line x1="115.10" y1="688.5" x2="173.90" y2="688.5" stroke="#161616" stroke-width="1"/>
<text x="101.0" y="477.9" style="font-size:10px;fill:#333" textLength="10.2" lengthAdjust="spacingAndGlyphs">92</text>
<text x="111.8" y="474.9" style="font-size:6.2px;fill:#333" textLength="13.3" lengthAdjust="spacingAndGlyphs">+0.8</text>
<text x="117.8" y="480.6" style="font-size:6.2px;fill:#333">0</text>
<text x="182.8" y="691.9" style="font-size:10px;fill:#333" textLength="10.2" lengthAdjust="spacingAndGlyphs">92</text>
<text x="192.8" y="688.9" style="font-size:6.2px;fill:#333" textLength="13.3" lengthAdjust="spacingAndGlyphs">+0.8</text>
<text x="199.5" y="694.6" style="font-size:6.2px;fill:#333">0</text>
<text x="400.1" y="545.9" style="font-size:10px;fill:#333" textLength="10.2" lengthAdjust="spacingAndGlyphs">92</text>
<text x="410.0" y="542.9" style="font-size:6.2px;fill:#333" textLength="13.3" lengthAdjust="spacingAndGlyphs">+0.8</text>
<text x="416.6" y="548.6" style="font-size:6.2px;fill:#333">0</text>
<text x="16.6" y="619.3" style="font-size:9.4px;fill:#333" textLength="35.2" lengthAdjust="spacingAndGlyphs">120 min.</text>
<text x="235.7" y="463.7" style="font-size:8.3px;fill:#333" textLength="117.3" lengthAdjust="spacingAndGlyphs">(96 × number of units – 3.5)</text>
<text x="353.8" y="461.0" style="font-size:5.6px;fill:#333" textLength="13.1" lengthAdjust="spacingAndGlyphs">+1.0</text>
<text x="361.0" y="466.1" style="font-size:5.6px;fill:#333">0</text>
<text x="221" y="615.2" style="font-size:9.6px;fill:#222" textLength="108.2" lengthAdjust="spacingAndGlyphs">Group mounting does not</text>
<text x="221" y="624.2" style="font-size:9.6px;fill:#222" textLength="85.2" lengthAdjust="spacingAndGlyphs">allow waterproofing.</text>
</svg>
</body></html>
